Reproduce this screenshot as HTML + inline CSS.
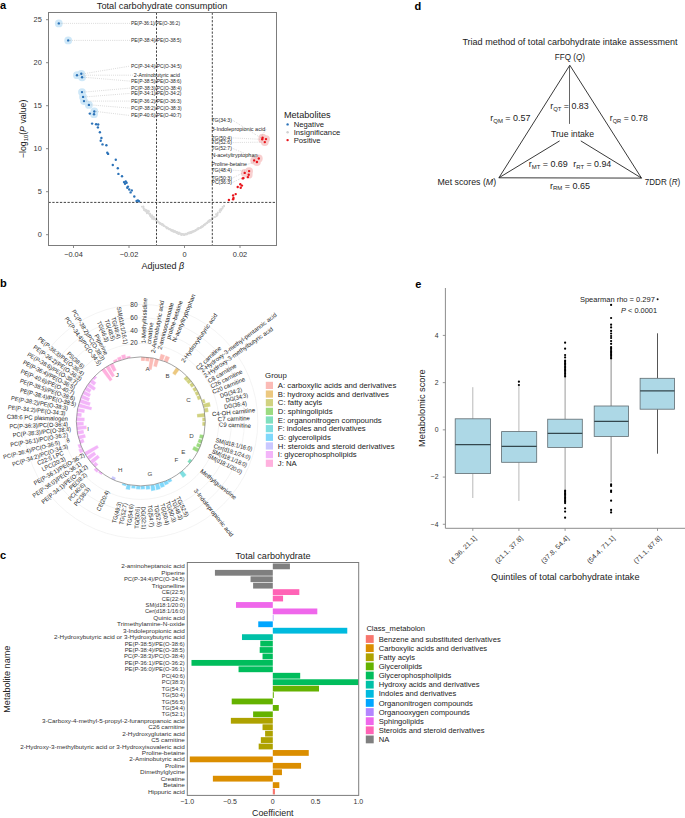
<!DOCTYPE html>
<html><head><meta charset="utf-8"><style>
html,body{margin:0;padding:0;background:#fff;}
svg{display:block;font-family:"Liberation Sans", sans-serif;}
</style></head><body>
<svg width="685" height="818" viewBox="0 0 685 818" fill="#222">
<text x="0.00" y="9.08" font-size="11" fill="#000" font-weight="bold">a</text>
<text x="96.80" y="9.12" font-size="8.2" textLength="130.60" lengthAdjust="spacingAndGlyphs">Total carbohydrate consumption</text>
<circle cx="161.61" cy="224.03" r="0.95" fill="#d9d9d9"/>
<circle cx="192.53" cy="231.65" r="0.95" fill="#d9d9d9"/>
<circle cx="194.37" cy="230.92" r="0.95" fill="#d9d9d9"/>
<circle cx="212.27" cy="218.47" r="0.95" fill="#d9d9d9"/>
<circle cx="163.42" cy="225.71" r="0.95" fill="#d9d9d9"/>
<circle cx="181.24" cy="235.08" r="0.95" fill="#d9d9d9"/>
<circle cx="212.18" cy="218.03" r="0.95" fill="#d9d9d9"/>
<circle cx="154.23" cy="218.75" r="0.95" fill="#d9d9d9"/>
<circle cx="195.15" cy="230.76" r="0.95" fill="#d9d9d9"/>
<circle cx="204.14" cy="224.65" r="0.95" fill="#d9d9d9"/>
<circle cx="198.23" cy="229.32" r="0.95" fill="#d9d9d9"/>
<circle cx="191.45" cy="232.45" r="0.95" fill="#d9d9d9"/>
<circle cx="166.96" cy="228.49" r="0.95" fill="#d9d9d9"/>
<circle cx="181.45" cy="234.12" r="0.95" fill="#d9d9d9"/>
<circle cx="202.24" cy="226.67" r="0.95" fill="#d9d9d9"/>
<circle cx="209.18" cy="220.71" r="0.95" fill="#d9d9d9"/>
<circle cx="179.07" cy="233.95" r="0.95" fill="#d9d9d9"/>
<circle cx="149.73" cy="213.72" r="0.95" fill="#d9d9d9"/>
<circle cx="152.99" cy="217.96" r="0.95" fill="#d9d9d9"/>
<circle cx="178.36" cy="233.94" r="0.95" fill="#d9d9d9"/>
<circle cx="194.45" cy="230.69" r="0.95" fill="#d9d9d9"/>
<circle cx="174.11" cy="231.83" r="0.95" fill="#d9d9d9"/>
<circle cx="171.15" cy="229.67" r="0.95" fill="#d9d9d9"/>
<circle cx="217.91" cy="212.46" r="0.95" fill="#d9d9d9"/>
<circle cx="220.00" cy="212.24" r="0.95" fill="#d9d9d9"/>
<circle cx="155.28" cy="219.44" r="0.95" fill="#d9d9d9"/>
<circle cx="214.22" cy="217.03" r="0.95" fill="#d9d9d9"/>
<circle cx="201.82" cy="226.30" r="0.95" fill="#d9d9d9"/>
<circle cx="159.34" cy="222.93" r="0.95" fill="#d9d9d9"/>
<circle cx="165.58" cy="226.58" r="0.95" fill="#d9d9d9"/>
<circle cx="146.86" cy="213.25" r="0.95" fill="#d9d9d9"/>
<circle cx="148.98" cy="211.55" r="0.95" fill="#d9d9d9"/>
<circle cx="209.15" cy="220.94" r="0.95" fill="#d9d9d9"/>
<circle cx="166.33" cy="227.54" r="0.95" fill="#d9d9d9"/>
<circle cx="206.46" cy="223.32" r="0.95" fill="#d9d9d9"/>
<circle cx="193.43" cy="231.25" r="0.95" fill="#d9d9d9"/>
<circle cx="145.30" cy="209.80" r="0.95" fill="#d9d9d9"/>
<circle cx="215.94" cy="214.24" r="0.95" fill="#d9d9d9"/>
<circle cx="184.21" cy="234.94" r="0.95" fill="#d9d9d9"/>
<circle cx="148.00" cy="212.74" r="0.95" fill="#d9d9d9"/>
<circle cx="192.18" cy="232.13" r="0.95" fill="#d9d9d9"/>
<circle cx="175.97" cy="232.24" r="0.95" fill="#d9d9d9"/>
<circle cx="193.08" cy="231.54" r="0.95" fill="#d9d9d9"/>
<circle cx="222.51" cy="208.39" r="0.95" fill="#d9d9d9"/>
<circle cx="173.42" cy="230.72" r="0.95" fill="#d9d9d9"/>
<circle cx="195.91" cy="230.18" r="0.95" fill="#d9d9d9"/>
<circle cx="191.83" cy="231.60" r="0.95" fill="#d9d9d9"/>
<circle cx="220.98" cy="209.39" r="0.95" fill="#d9d9d9"/>
<circle cx="177.94" cy="232.87" r="0.95" fill="#d9d9d9"/>
<circle cx="166.94" cy="227.54" r="0.95" fill="#d9d9d9"/>
<circle cx="224.12" cy="206.20" r="0.95" fill="#d9d9d9"/>
<circle cx="176.59" cy="232.41" r="0.95" fill="#d9d9d9"/>
<circle cx="190.51" cy="233.10" r="0.95" fill="#d9d9d9"/>
<circle cx="194.92" cy="230.65" r="0.95" fill="#d9d9d9"/>
<circle cx="146.58" cy="210.59" r="0.95" fill="#d9d9d9"/>
<circle cx="198.90" cy="228.11" r="0.95" fill="#d9d9d9"/>
<circle cx="171.29" cy="229.99" r="0.95" fill="#d9d9d9"/>
<circle cx="143.37" cy="206.45" r="0.95" fill="#d9d9d9"/>
<circle cx="146.62" cy="210.30" r="0.95" fill="#d9d9d9"/>
<circle cx="162.72" cy="224.32" r="0.95" fill="#d9d9d9"/>
<circle cx="180.06" cy="233.34" r="0.95" fill="#d9d9d9"/>
<circle cx="172.25" cy="230.43" r="0.95" fill="#d9d9d9"/>
<circle cx="167.92" cy="228.04" r="0.95" fill="#d9d9d9"/>
<circle cx="166.88" cy="228.11" r="0.95" fill="#d9d9d9"/>
<circle cx="173.37" cy="231.12" r="0.95" fill="#d9d9d9"/>
<circle cx="189.60" cy="232.90" r="0.95" fill="#d9d9d9"/>
<circle cx="203.62" cy="225.23" r="0.95" fill="#d9d9d9"/>
<circle cx="209.42" cy="221.12" r="0.95" fill="#d9d9d9"/>
<circle cx="161.67" cy="224.54" r="0.95" fill="#d9d9d9"/>
<circle cx="200.49" cy="227.76" r="0.95" fill="#d9d9d9"/>
<circle cx="150.11" cy="214.45" r="0.95" fill="#d9d9d9"/>
<circle cx="211.93" cy="219.02" r="0.95" fill="#d9d9d9"/>
<circle cx="178.55" cy="233.25" r="0.95" fill="#d9d9d9"/>
<circle cx="169.95" cy="229.29" r="0.95" fill="#d9d9d9"/>
<circle cx="196.44" cy="230.07" r="0.95" fill="#d9d9d9"/>
<circle cx="160.51" cy="223.32" r="0.95" fill="#d9d9d9"/>
<circle cx="151.72" cy="215.75" r="0.95" fill="#d9d9d9"/>
<circle cx="209.67" cy="220.64" r="0.95" fill="#d9d9d9"/>
<circle cx="212.35" cy="218.48" r="0.95" fill="#d9d9d9"/>
<circle cx="209.71" cy="220.91" r="0.95" fill="#d9d9d9"/>
<circle cx="195.74" cy="230.27" r="0.95" fill="#d9d9d9"/>
<circle cx="152.46" cy="216.22" r="0.95" fill="#d9d9d9"/>
<circle cx="166.17" cy="227.41" r="0.95" fill="#d9d9d9"/>
<circle cx="170.77" cy="229.61" r="0.95" fill="#d9d9d9"/>
<circle cx="176.73" cy="232.17" r="0.95" fill="#d9d9d9"/>
<circle cx="141.89" cy="206.66" r="0.95" fill="#d9d9d9"/>
<circle cx="221.21" cy="210.56" r="0.95" fill="#d9d9d9"/>
<circle cx="221.79" cy="208.89" r="0.95" fill="#d9d9d9"/>
<circle cx="160.27" cy="223.37" r="0.95" fill="#d9d9d9"/>
<circle cx="197.52" cy="228.52" r="0.95" fill="#d9d9d9"/>
<circle cx="185.36" cy="234.37" r="0.95" fill="#d9d9d9"/>
<circle cx="160.72" cy="224.03" r="0.95" fill="#d9d9d9"/>
<circle cx="147.25" cy="211.36" r="0.95" fill="#d9d9d9"/>
<circle cx="209.96" cy="220.29" r="0.95" fill="#d9d9d9"/>
<circle cx="145.31" cy="211.10" r="0.95" fill="#d9d9d9"/>
<circle cx="219.57" cy="210.57" r="0.95" fill="#d9d9d9"/>
<circle cx="217.52" cy="214.94" r="0.95" fill="#d9d9d9"/>
<circle cx="156.02" cy="220.13" r="0.95" fill="#d9d9d9"/>
<circle cx="166.84" cy="227.52" r="0.95" fill="#d9d9d9"/>
<circle cx="176.46" cy="232.02" r="0.95" fill="#d9d9d9"/>
<circle cx="220.85" cy="209.62" r="0.95" fill="#d9d9d9"/>
<circle cx="207.61" cy="222.58" r="0.95" fill="#d9d9d9"/>
<circle cx="171.23" cy="230.25" r="0.95" fill="#d9d9d9"/>
<circle cx="210.52" cy="220.38" r="0.95" fill="#d9d9d9"/>
<circle cx="155.98" cy="220.25" r="0.95" fill="#d9d9d9"/>
<circle cx="209.61" cy="219.97" r="0.95" fill="#d9d9d9"/>
<circle cx="211.09" cy="219.97" r="0.95" fill="#d9d9d9"/>
<circle cx="164.43" cy="226.28" r="0.95" fill="#d9d9d9"/>
<circle cx="164.20" cy="225.74" r="0.95" fill="#d9d9d9"/>
<circle cx="181.46" cy="233.93" r="0.95" fill="#d9d9d9"/>
<circle cx="207.11" cy="222.86" r="0.95" fill="#d9d9d9"/>
<circle cx="152.22" cy="216.79" r="0.95" fill="#d9d9d9"/>
<circle cx="152.03" cy="218.83" r="0.95" fill="#d9d9d9"/>
<circle cx="183.93" cy="234.98" r="0.95" fill="#d9d9d9"/>
<circle cx="168.19" cy="228.39" r="0.95" fill="#d9d9d9"/>
<circle cx="196.16" cy="230.24" r="0.95" fill="#d9d9d9"/>
<circle cx="191.07" cy="232.24" r="0.95" fill="#d9d9d9"/>
<circle cx="169.28" cy="229.28" r="0.95" fill="#d9d9d9"/>
<circle cx="151.96" cy="215.20" r="0.95" fill="#d9d9d9"/>
<circle cx="173.63" cy="231.04" r="0.95" fill="#d9d9d9"/>
<circle cx="148.25" cy="213.37" r="0.95" fill="#d9d9d9"/>
<circle cx="192.57" cy="232.03" r="0.95" fill="#d9d9d9"/>
<circle cx="207.63" cy="221.88" r="0.95" fill="#d9d9d9"/>
<circle cx="194.14" cy="231.41" r="0.95" fill="#d9d9d9"/>
<circle cx="177.97" cy="232.64" r="0.95" fill="#d9d9d9"/>
<circle cx="200.89" cy="227.45" r="0.95" fill="#d9d9d9"/>
<circle cx="177.03" cy="232.46" r="0.95" fill="#d9d9d9"/>
<circle cx="162.21" cy="224.41" r="0.95" fill="#d9d9d9"/>
<circle cx="186.78" cy="233.96" r="0.95" fill="#d9d9d9"/>
<circle cx="177.40" cy="232.60" r="0.95" fill="#d9d9d9"/>
<circle cx="177.48" cy="233.35" r="0.95" fill="#d9d9d9"/>
<circle cx="173.12" cy="230.44" r="0.95" fill="#d9d9d9"/>
<circle cx="217.37" cy="213.54" r="0.95" fill="#d9d9d9"/>
<circle cx="151.91" cy="217.50" r="0.95" fill="#d9d9d9"/>
<circle cx="210.22" cy="219.84" r="0.95" fill="#d9d9d9"/>
<circle cx="208.46" cy="221.05" r="0.95" fill="#d9d9d9"/>
<circle cx="197.91" cy="228.92" r="0.95" fill="#d9d9d9"/>
<circle cx="150.21" cy="213.76" r="0.95" fill="#d9d9d9"/>
<circle cx="191.17" cy="232.54" r="0.95" fill="#d9d9d9"/>
<circle cx="206.93" cy="222.89" r="0.95" fill="#d9d9d9"/>
<circle cx="145.24" cy="210.24" r="0.95" fill="#d9d9d9"/>
<circle cx="143.48" cy="208.22" r="0.95" fill="#d9d9d9"/>
<circle cx="212.81" cy="218.40" r="0.95" fill="#d9d9d9"/>
<circle cx="190.43" cy="231.91" r="0.95" fill="#d9d9d9"/>
<circle cx="208.99" cy="221.82" r="0.95" fill="#d9d9d9"/>
<circle cx="184.71" cy="234.78" r="0.95" fill="#d9d9d9"/>
<circle cx="201.93" cy="226.93" r="0.95" fill="#d9d9d9"/>
<circle cx="168.90" cy="229.26" r="0.95" fill="#d9d9d9"/>
<circle cx="189.16" cy="233.28" r="0.95" fill="#d9d9d9"/>
<circle cx="156.69" cy="220.40" r="0.95" fill="#d9d9d9"/>
<circle cx="162.62" cy="224.62" r="0.95" fill="#d9d9d9"/>
<circle cx="174.77" cy="231.32" r="0.95" fill="#d9d9d9"/>
<circle cx="172.55" cy="230.48" r="0.95" fill="#d9d9d9"/>
<circle cx="176.84" cy="232.72" r="0.95" fill="#d9d9d9"/>
<circle cx="148.54" cy="210.86" r="0.95" fill="#d9d9d9"/>
<circle cx="176.38" cy="232.35" r="0.95" fill="#d9d9d9"/>
<circle cx="204.66" cy="224.87" r="0.95" fill="#d9d9d9"/>
<circle cx="205.39" cy="224.50" r="0.95" fill="#d9d9d9"/>
<circle cx="198.44" cy="228.26" r="0.95" fill="#d9d9d9"/>
<circle cx="195.83" cy="230.07" r="0.95" fill="#d9d9d9"/>
<circle cx="149.60" cy="214.30" r="0.95" fill="#d9d9d9"/>
<circle cx="185.21" cy="233.72" r="0.95" fill="#d9d9d9"/>
<circle cx="178.94" cy="233.20" r="0.95" fill="#d9d9d9"/>
<circle cx="164.09" cy="225.82" r="0.95" fill="#d9d9d9"/>
<circle cx="158.33" cy="221.67" r="0.95" fill="#d9d9d9"/>
<circle cx="161.13" cy="223.86" r="0.95" fill="#d9d9d9"/>
<circle cx="199.90" cy="228.06" r="0.95" fill="#d9d9d9"/>
<circle cx="201.10" cy="226.94" r="0.95" fill="#d9d9d9"/>
<circle cx="176.42" cy="232.65" r="0.95" fill="#d9d9d9"/>
<circle cx="164.08" cy="225.66" r="0.95" fill="#d9d9d9"/>
<circle cx="159.89" cy="223.51" r="0.95" fill="#d9d9d9"/>
<circle cx="173.84" cy="231.38" r="0.95" fill="#d9d9d9"/>
<circle cx="156.05" cy="219.91" r="0.95" fill="#d9d9d9"/>
<circle cx="206.92" cy="223.13" r="0.95" fill="#d9d9d9"/>
<circle cx="153.64" cy="219.07" r="0.95" fill="#d9d9d9"/>
<circle cx="192.12" cy="231.91" r="0.95" fill="#d9d9d9"/>
<circle cx="181.05" cy="234.21" r="0.95" fill="#d9d9d9"/>
<circle cx="188.58" cy="232.82" r="0.95" fill="#d9d9d9"/>
<circle cx="182.17" cy="234.05" r="0.95" fill="#d9d9d9"/>
<circle cx="175.32" cy="231.26" r="0.95" fill="#d9d9d9"/>
<circle cx="203.49" cy="225.80" r="0.95" fill="#d9d9d9"/>
<circle cx="160.90" cy="223.76" r="0.95" fill="#d9d9d9"/>
<circle cx="161.34" cy="224.06" r="0.95" fill="#d9d9d9"/>
<circle cx="222.51" cy="206.84" r="0.95" fill="#d9d9d9"/>
<circle cx="161.96" cy="224.70" r="0.95" fill="#d9d9d9"/>
<circle cx="157.32" cy="221.39" r="0.95" fill="#d9d9d9"/>
<circle cx="201.05" cy="227.53" r="0.95" fill="#d9d9d9"/>
<circle cx="163.05" cy="224.77" r="0.95" fill="#d9d9d9"/>
<circle cx="177.27" cy="232.66" r="0.95" fill="#d9d9d9"/>
<circle cx="149.33" cy="213.68" r="0.95" fill="#d9d9d9"/>
<circle cx="211.97" cy="218.63" r="0.95" fill="#d9d9d9"/>
<circle cx="190.54" cy="232.93" r="0.95" fill="#d9d9d9"/>
<circle cx="198.58" cy="228.89" r="0.95" fill="#d9d9d9"/>
<circle cx="178.36" cy="233.07" r="0.95" fill="#d9d9d9"/>
<circle cx="182.56" cy="234.39" r="0.95" fill="#d9d9d9"/>
<circle cx="187.50" cy="234.21" r="0.95" fill="#d9d9d9"/>
<circle cx="151.57" cy="215.98" r="0.95" fill="#d9d9d9"/>
<circle cx="151.01" cy="216.98" r="0.95" fill="#d9d9d9"/>
<circle cx="216.47" cy="216.27" r="0.95" fill="#d9d9d9"/>
<circle cx="173.12" cy="231.48" r="0.95" fill="#d9d9d9"/>
<circle cx="206.77" cy="223.02" r="0.95" fill="#d9d9d9"/>
<circle cx="198.61" cy="228.27" r="0.95" fill="#d9d9d9"/>
<circle cx="196.77" cy="229.70" r="0.95" fill="#d9d9d9"/>
<circle cx="205.23" cy="223.91" r="0.95" fill="#d9d9d9"/>
<circle cx="222.73" cy="207.49" r="0.95" fill="#d9d9d9"/>
<circle cx="183.23" cy="234.39" r="0.95" fill="#d9d9d9"/>
<circle cx="171.26" cy="230.02" r="0.95" fill="#d9d9d9"/>
<circle cx="189.36" cy="232.56" r="0.95" fill="#d9d9d9"/>
<circle cx="156.88" cy="220.48" r="0.95" fill="#d9d9d9"/>
<circle cx="156.63" cy="220.19" r="0.95" fill="#d9d9d9"/>
<circle cx="216.70" cy="215.77" r="0.95" fill="#d9d9d9"/>
<circle cx="153.45" cy="219.34" r="0.95" fill="#d9d9d9"/>
<circle cx="169.51" cy="229.15" r="0.95" fill="#d9d9d9"/>
<circle cx="188.39" cy="232.98" r="0.95" fill="#d9d9d9"/>
<circle cx="196.21" cy="229.62" r="0.95" fill="#d9d9d9"/>
<circle cx="156.40" cy="220.48" r="0.95" fill="#d9d9d9"/>
<circle cx="147.30" cy="211.71" r="0.95" fill="#d9d9d9"/>
<circle cx="187.39" cy="233.22" r="0.95" fill="#d9d9d9"/>
<circle cx="204.00" cy="224.88" r="0.95" fill="#d9d9d9"/>
<circle cx="173.90" cy="231.55" r="0.95" fill="#d9d9d9"/>
<circle cx="184.15" cy="234.64" r="0.95" fill="#d9d9d9"/>
<circle cx="171.42" cy="230.80" r="0.95" fill="#d9d9d9"/>
<circle cx="169.63" cy="228.93" r="0.95" fill="#d9d9d9"/>
<circle cx="206.71" cy="223.30" r="0.95" fill="#d9d9d9"/>
<circle cx="171.32" cy="230.25" r="0.95" fill="#d9d9d9"/>
<circle cx="164.36" cy="226.07" r="0.95" fill="#d9d9d9"/>
<circle cx="149.92" cy="215.82" r="0.95" fill="#d9d9d9"/>
<circle cx="202.96" cy="226.18" r="0.95" fill="#d9d9d9"/>
<circle cx="157.12" cy="221.11" r="0.95" fill="#d9d9d9"/>
<circle cx="204.31" cy="225.17" r="0.95" fill="#d9d9d9"/>
<circle cx="210.43" cy="220.04" r="0.95" fill="#d9d9d9"/>
<circle cx="153.88" cy="217.05" r="0.95" fill="#d9d9d9"/>
<circle cx="175.17" cy="232.02" r="0.95" fill="#d9d9d9"/>
<circle cx="189.53" cy="233.42" r="0.95" fill="#d9d9d9"/>
<circle cx="158.58" cy="222.12" r="0.95" fill="#d9d9d9"/>
<circle cx="144.04" cy="210.17" r="0.95" fill="#d9d9d9"/>
<circle cx="209.37" cy="221.60" r="0.95" fill="#d9d9d9"/>
<circle cx="173.88" cy="230.79" r="0.95" fill="#d9d9d9"/>
<circle cx="188.20" cy="233.09" r="0.95" fill="#d9d9d9"/>
<circle cx="224.05" cy="205.78" r="0.95" fill="#d9d9d9"/>
<circle cx="166.80" cy="227.97" r="0.95" fill="#d9d9d9"/>
<circle cx="192.32" cy="231.53" r="0.95" fill="#d9d9d9"/>
<circle cx="202.92" cy="226.41" r="0.95" fill="#d9d9d9"/>
<circle cx="197.43" cy="229.25" r="0.95" fill="#d9d9d9"/>
<circle cx="183.06" cy="234.01" r="0.95" fill="#d9d9d9"/>
<circle cx="157.85" cy="221.50" r="0.95" fill="#d9d9d9"/>
<circle cx="186.25" cy="234.58" r="0.95" fill="#d9d9d9"/>
<circle cx="196.08" cy="230.08" r="0.95" fill="#d9d9d9"/>
<circle cx="179.04" cy="232.47" r="0.95" fill="#d9d9d9"/>
<circle cx="208.46" cy="221.32" r="0.95" fill="#d9d9d9"/>
<circle cx="194.17" cy="231.28" r="0.95" fill="#d9d9d9"/>
<circle cx="161.22" cy="224.19" r="0.95" fill="#d9d9d9"/>
<circle cx="148.08" cy="210.81" r="0.95" fill="#d9d9d9"/>
<circle cx="168.80" cy="228.66" r="0.95" fill="#d9d9d9"/>
<circle cx="215.06" cy="217.05" r="0.95" fill="#d9d9d9"/>
<circle cx="192.30" cy="232.37" r="0.95" fill="#d9d9d9"/>
<circle cx="219.83" cy="211.02" r="0.95" fill="#d9d9d9"/>
<circle cx="209.66" cy="220.37" r="0.95" fill="#d9d9d9"/>
<circle cx="220.23" cy="209.25" r="0.95" fill="#d9d9d9"/>
<circle cx="182.48" cy="234.48" r="0.95" fill="#d9d9d9"/>
<circle cx="150.72" cy="215.74" r="0.95" fill="#d9d9d9"/>
<circle cx="158.43" cy="222.04" r="0.95" fill="#d9d9d9"/>
<circle cx="155.09" cy="218.76" r="0.95" fill="#d9d9d9"/>
<circle cx="186.91" cy="233.97" r="0.95" fill="#d9d9d9"/>
<circle cx="177.17" cy="232.47" r="0.95" fill="#d9d9d9"/>
<circle cx="180.74" cy="233.55" r="0.95" fill="#d9d9d9"/>
<circle cx="205.47" cy="223.81" r="0.95" fill="#d9d9d9"/>
<circle cx="217.50" cy="213.81" r="0.95" fill="#d9d9d9"/>
<circle cx="172.51" cy="230.42" r="0.95" fill="#d9d9d9"/>
<circle cx="191.90" cy="232.34" r="0.95" fill="#d9d9d9"/>
<circle cx="160.42" cy="223.74" r="0.95" fill="#d9d9d9"/>
<circle cx="207.68" cy="222.30" r="0.95" fill="#d9d9d9"/>
<circle cx="153.62" cy="217.46" r="0.95" fill="#d9d9d9"/>
<circle cx="159.18" cy="222.64" r="0.95" fill="#d9d9d9"/>
<circle cx="155.93" cy="219.83" r="0.95" fill="#d9d9d9"/>
<circle cx="143.82" cy="208.67" r="0.95" fill="#d9d9d9"/>
<circle cx="150.80" cy="215.98" r="0.95" fill="#d9d9d9"/>
<circle cx="146.55" cy="212.17" r="0.95" fill="#d9d9d9"/>
<circle cx="143.40" cy="207.02" r="0.95" fill="#d9d9d9"/>
<circle cx="200.94" cy="227.24" r="0.95" fill="#d9d9d9"/>
<circle cx="145.82" cy="209.76" r="0.95" fill="#d9d9d9"/>
<circle cx="143.75" cy="208.80" r="0.95" fill="#d9d9d9"/>
<circle cx="149.47" cy="213.66" r="0.95" fill="#d9d9d9"/>
<circle cx="194.10" cy="231.03" r="0.95" fill="#d9d9d9"/>
<circle cx="170.77" cy="229.96" r="0.95" fill="#d9d9d9"/>
<circle cx="58.80" cy="23.40" r="3.90" fill="#cfe8f8"/>
<circle cx="68.20" cy="40.40" r="3.90" fill="#cfe8f8"/>
<circle cx="77.00" cy="75.20" r="3.90" fill="#cfe8f8"/>
<circle cx="81.30" cy="73.80" r="3.90" fill="#cfe8f8"/>
<circle cx="82.10" cy="77.30" r="3.90" fill="#cfe8f8"/>
<circle cx="82.00" cy="92.10" r="3.90" fill="#cfe8f8"/>
<circle cx="83.10" cy="96.90" r="3.90" fill="#cfe8f8"/>
<circle cx="84.00" cy="101.10" r="3.90" fill="#cfe8f8"/>
<circle cx="88.90" cy="104.90" r="3.90" fill="#cfe8f8"/>
<circle cx="94.30" cy="111.50" r="3.90" fill="#cfe8f8"/>
<circle cx="94.00" cy="114.20" r="3.90" fill="#cfe8f8"/>
<circle cx="262.60" cy="137.70" r="3.90" fill="#f8cfcf"/>
<circle cx="262.20" cy="139.30" r="3.90" fill="#f8cfcf"/>
<circle cx="266.00" cy="139.10" r="3.90" fill="#f8cfcf"/>
<circle cx="264.80" cy="142.10" r="3.90" fill="#f8cfcf"/>
<circle cx="258.80" cy="158.50" r="3.90" fill="#f8cfcf"/>
<circle cx="254.20" cy="160.40" r="3.90" fill="#f8cfcf"/>
<circle cx="256.90" cy="162.00" r="3.90" fill="#f8cfcf"/>
<circle cx="249.10" cy="171.10" r="3.90" fill="#f8cfcf"/>
<circle cx="244.70" cy="172.90" r="3.90" fill="#f8cfcf"/>
<circle cx="248.70" cy="174.70" r="3.90" fill="#f8cfcf"/>
<line x1="156.50" y1="12.50" x2="156.50" y2="245.50" stroke="#222" stroke-width="0.85" stroke-dasharray="2.3 1.5"/>
<line x1="212.30" y1="12.50" x2="212.30" y2="245.50" stroke="#222" stroke-width="0.85" stroke-dasharray="2.3 1.5"/>
<line x1="48.50" y1="202.40" x2="276.50" y2="202.40" stroke="#222" stroke-width="0.85" stroke-dasharray="2.3 1.5"/>
<line x1="60.80" y1="23.40" x2="130.00" y2="23.40" stroke="#9a9a9a" stroke-width="0.55" stroke-dasharray="0.6 1.3"/>
<line x1="70.20" y1="40.40" x2="130.00" y2="40.40" stroke="#9a9a9a" stroke-width="0.55" stroke-dasharray="0.6 1.3"/>
<line x1="83.30" y1="73.80" x2="130.00" y2="66.10" stroke="#9a9a9a" stroke-width="0.55" stroke-dasharray="0.6 1.3"/>
<line x1="79.00" y1="75.20" x2="132.80" y2="75.20" stroke="#9a9a9a" stroke-width="0.55" stroke-dasharray="0.6 1.3"/>
<line x1="84.10" y1="77.30" x2="130.00" y2="81.10" stroke="#9a9a9a" stroke-width="0.55" stroke-dasharray="0.6 1.3"/>
<line x1="84.00" y1="92.10" x2="130.00" y2="88.10" stroke="#9a9a9a" stroke-width="0.55" stroke-dasharray="0.6 1.3"/>
<line x1="85.10" y1="96.90" x2="130.00" y2="93.40" stroke="#9a9a9a" stroke-width="0.55" stroke-dasharray="0.6 1.3"/>
<line x1="86.00" y1="101.10" x2="130.00" y2="101.10" stroke="#9a9a9a" stroke-width="0.55" stroke-dasharray="0.6 1.3"/>
<line x1="90.90" y1="104.90" x2="130.00" y2="108.10" stroke="#9a9a9a" stroke-width="0.55" stroke-dasharray="0.6 1.3"/>
<line x1="96.30" y1="111.50" x2="130.00" y2="115.50" stroke="#9a9a9a" stroke-width="0.55" stroke-dasharray="0.6 1.3"/>
<line x1="232.90" y1="120.40" x2="260.60" y2="137.70" stroke="#9a9a9a" stroke-width="0.55" stroke-dasharray="0.6 1.3"/>
<line x1="266.20" y1="129.20" x2="260.60" y2="137.70" stroke="#9a9a9a" stroke-width="0.55" stroke-dasharray="0.6 1.3"/>
<line x1="232.90" y1="137.90" x2="260.20" y2="139.30" stroke="#9a9a9a" stroke-width="0.55" stroke-dasharray="0.6 1.3"/>
<line x1="232.90" y1="142.60" x2="262.80" y2="142.10" stroke="#9a9a9a" stroke-width="0.55" stroke-dasharray="0.6 1.3"/>
<line x1="232.90" y1="148.50" x2="256.80" y2="158.50" stroke="#9a9a9a" stroke-width="0.55" stroke-dasharray="0.6 1.3"/>
<line x1="258.50" y1="155.80" x2="252.20" y2="160.40" stroke="#9a9a9a" stroke-width="0.55" stroke-dasharray="0.6 1.3"/>
<line x1="247.90" y1="164.20" x2="254.90" y2="162.00" stroke="#9a9a9a" stroke-width="0.55" stroke-dasharray="0.6 1.3"/>
<line x1="232.90" y1="170.20" x2="247.10" y2="171.10" stroke="#9a9a9a" stroke-width="0.55" stroke-dasharray="0.6 1.3"/>
<line x1="232.90" y1="177.90" x2="242.70" y2="172.90" stroke="#9a9a9a" stroke-width="0.55" stroke-dasharray="0.6 1.3"/>
<line x1="232.90" y1="182.30" x2="241.50" y2="178.10" stroke="#9a9a9a" stroke-width="0.55" stroke-dasharray="0.6 1.3"/>
<circle cx="58.80" cy="23.40" r="1.20" fill="#2b72b8"/>
<circle cx="68.20" cy="40.40" r="1.20" fill="#2b72b8"/>
<circle cx="77.00" cy="75.20" r="1.20" fill="#2b72b8"/>
<circle cx="81.30" cy="73.80" r="1.20" fill="#2b72b8"/>
<circle cx="82.10" cy="77.30" r="1.20" fill="#2b72b8"/>
<circle cx="82.00" cy="92.10" r="1.20" fill="#2b72b8"/>
<circle cx="83.10" cy="96.90" r="1.20" fill="#2b72b8"/>
<circle cx="84.00" cy="101.10" r="1.20" fill="#2b72b8"/>
<circle cx="88.90" cy="104.90" r="1.20" fill="#2b72b8"/>
<circle cx="94.30" cy="111.50" r="1.20" fill="#2b72b8"/>
<circle cx="94.00" cy="114.20" r="1.20" fill="#2b72b8"/>
<circle cx="89.80" cy="113.60" r="1.20" fill="#2b72b8"/>
<circle cx="92.10" cy="123.60" r="1.20" fill="#2b72b8"/>
<circle cx="96.10" cy="124.20" r="1.20" fill="#2b72b8"/>
<circle cx="98.20" cy="124.50" r="1.20" fill="#2b72b8"/>
<circle cx="97.90" cy="127.40" r="1.20" fill="#2b72b8"/>
<circle cx="99.90" cy="132.20" r="1.20" fill="#2b72b8"/>
<circle cx="101.40" cy="138.00" r="1.20" fill="#2b72b8"/>
<circle cx="100.70" cy="140.70" r="1.20" fill="#2b72b8"/>
<circle cx="102.50" cy="144.40" r="1.20" fill="#2b72b8"/>
<circle cx="106.40" cy="145.20" r="1.20" fill="#2b72b8"/>
<circle cx="107.30" cy="152.80" r="1.20" fill="#2b72b8"/>
<circle cx="108.10" cy="153.90" r="1.20" fill="#2b72b8"/>
<circle cx="115.80" cy="159.70" r="1.20" fill="#2b72b8"/>
<circle cx="112.80" cy="165.00" r="1.20" fill="#2b72b8"/>
<circle cx="117.80" cy="168.30" r="1.20" fill="#2b72b8"/>
<circle cx="118.40" cy="173.90" r="1.20" fill="#2b72b8"/>
<circle cx="122.00" cy="176.30" r="1.20" fill="#2b72b8"/>
<circle cx="124.00" cy="182.10" r="1.20" fill="#2b72b8"/>
<circle cx="125.70" cy="181.40" r="1.20" fill="#2b72b8"/>
<circle cx="126.60" cy="182.70" r="1.20" fill="#2b72b8"/>
<circle cx="125.00" cy="183.70" r="1.20" fill="#2b72b8"/>
<circle cx="127.90" cy="186.60" r="1.20" fill="#2b72b8"/>
<circle cx="127.30" cy="187.70" r="1.20" fill="#2b72b8"/>
<circle cx="129.20" cy="189.50" r="1.20" fill="#2b72b8"/>
<circle cx="131.80" cy="190.40" r="1.20" fill="#2b72b8"/>
<circle cx="130.60" cy="192.40" r="1.20" fill="#2b72b8"/>
<circle cx="134.30" cy="196.50" r="1.20" fill="#2b72b8"/>
<circle cx="136.60" cy="201.00" r="1.20" fill="#2b72b8"/>
<circle cx="137.90" cy="200.40" r="1.20" fill="#2b72b8"/>
<circle cx="139.00" cy="201.30" r="1.20" fill="#2b72b8"/>
<circle cx="262.60" cy="137.70" r="1.20" fill="#e8141b"/>
<circle cx="262.20" cy="139.30" r="1.20" fill="#e8141b"/>
<circle cx="266.00" cy="139.10" r="1.20" fill="#e8141b"/>
<circle cx="264.80" cy="142.10" r="1.20" fill="#e8141b"/>
<circle cx="258.80" cy="158.50" r="1.20" fill="#e8141b"/>
<circle cx="254.20" cy="160.40" r="1.20" fill="#e8141b"/>
<circle cx="256.90" cy="162.00" r="1.20" fill="#e8141b"/>
<circle cx="249.10" cy="171.10" r="1.20" fill="#e8141b"/>
<circle cx="244.70" cy="172.90" r="1.20" fill="#e8141b"/>
<circle cx="248.70" cy="174.70" r="1.20" fill="#e8141b"/>
<circle cx="247.90" cy="177.10" r="1.20" fill="#e8141b"/>
<circle cx="243.50" cy="178.10" r="1.20" fill="#e8141b"/>
<circle cx="242.70" cy="178.40" r="1.20" fill="#e8141b"/>
<circle cx="240.30" cy="184.20" r="1.20" fill="#e8141b"/>
<circle cx="241.90" cy="185.60" r="1.20" fill="#e8141b"/>
<circle cx="240.70" cy="187.80" r="1.20" fill="#e8141b"/>
<circle cx="237.70" cy="187.00" r="1.20" fill="#e8141b"/>
<circle cx="235.70" cy="194.10" r="1.20" fill="#e8141b"/>
<circle cx="233.10" cy="195.40" r="1.20" fill="#e8141b"/>
<circle cx="233.50" cy="198.00" r="1.20" fill="#e8141b"/>
<circle cx="233.10" cy="199.20" r="1.20" fill="#e8141b"/>
<circle cx="228.90" cy="200.00" r="1.20" fill="#e8141b"/>
<text x="131.00" y="25.09" font-size="4.9" fill="#1e1e1e" textLength="49.00" lengthAdjust="spacingAndGlyphs">PE(P-36:1)/PE(O-36:2)</text>
<text x="131.00" y="42.09" font-size="4.9" fill="#1e1e1e" textLength="50.50" lengthAdjust="spacingAndGlyphs">PE(P-38:4)/PE(O-38:5)</text>
<text x="131.00" y="67.79" font-size="4.9" fill="#1e1e1e" textLength="50.50" lengthAdjust="spacingAndGlyphs">PC(P-34:4)/PC(O-34:5)</text>
<text x="133.80" y="76.89" font-size="4.9" fill="#1e1e1e" textLength="46.00" lengthAdjust="spacingAndGlyphs">2-Aminobutyric acid</text>
<text x="131.00" y="82.79" font-size="4.9" fill="#1e1e1e" textLength="50.50" lengthAdjust="spacingAndGlyphs">PE(P-38:5)/PE(O-38:6)</text>
<text x="131.00" y="89.79" font-size="4.9" fill="#1e1e1e" textLength="50.50" lengthAdjust="spacingAndGlyphs">PC(P-38:3)/PC(O-38:4)</text>
<text x="131.00" y="95.09" font-size="4.9" fill="#1e1e1e" textLength="50.50" lengthAdjust="spacingAndGlyphs">PE(P-34:1)/PE(O-34:2)</text>
<text x="131.00" y="102.79" font-size="4.9" fill="#1e1e1e" textLength="50.50" lengthAdjust="spacingAndGlyphs">PE(P-36:2)/PE(O-36:3)</text>
<text x="131.00" y="109.79" font-size="4.9" fill="#1e1e1e" textLength="50.50" lengthAdjust="spacingAndGlyphs">PC(P-38:2)/PC(O-38:3)</text>
<text x="131.00" y="117.19" font-size="4.9" fill="#1e1e1e" textLength="50.50" lengthAdjust="spacingAndGlyphs">PE(P-40:6)/PE(O-40:7)</text>
<text x="211.50" y="122.09" font-size="4.9" fill="#1e1e1e" textLength="20.40" lengthAdjust="spacingAndGlyphs">TG(34:3)</text>
<text x="211.50" y="130.89" font-size="4.9" fill="#1e1e1e" textLength="53.70" lengthAdjust="spacingAndGlyphs">3-Indolepropionic acid</text>
<text x="211.50" y="139.59" font-size="4.9" fill="#1e1e1e" textLength="20.40" lengthAdjust="spacingAndGlyphs">TG(50:4)</text>
<text x="211.50" y="144.29" font-size="4.9" fill="#1e1e1e" textLength="20.40" lengthAdjust="spacingAndGlyphs">TG(52:6)</text>
<text x="211.50" y="150.19" font-size="4.9" fill="#1e1e1e" textLength="20.40" lengthAdjust="spacingAndGlyphs">TG(52:7)</text>
<text x="211.50" y="157.49" font-size="4.9" fill="#1e1e1e" textLength="46.00" lengthAdjust="spacingAndGlyphs">N-acetyltryptophan</text>
<text x="211.50" y="165.89" font-size="4.9" fill="#1e1e1e" textLength="35.40" lengthAdjust="spacingAndGlyphs">Proline-betaine</text>
<text x="211.50" y="171.89" font-size="4.9" fill="#1e1e1e" textLength="20.40" lengthAdjust="spacingAndGlyphs">TG(48:4)</text>
<text x="211.50" y="179.59" font-size="4.9" fill="#1e1e1e" textLength="20.40" lengthAdjust="spacingAndGlyphs">TG(50:3)</text>
<text x="211.50" y="183.99" font-size="4.9" fill="#1e1e1e" textLength="20.40" lengthAdjust="spacingAndGlyphs">PC(36:3)</text>
<rect x="48.5" y="12.5" width="228.00" height="233.00" fill="none" stroke="#7c7c7c" stroke-width="1"/>
<line x1="46.00" y1="234.70" x2="48.50" y2="234.70" stroke="#7c7c7c" stroke-width="0.9"/>
<text x="41.80" y="237.25" font-size="7.4" text-anchor="end" fill="#333">0</text>
<line x1="46.00" y1="191.70" x2="48.50" y2="191.70" stroke="#7c7c7c" stroke-width="0.9"/>
<text x="41.80" y="194.25" font-size="7.4" text-anchor="end" fill="#333">5</text>
<line x1="46.00" y1="148.70" x2="48.50" y2="148.70" stroke="#7c7c7c" stroke-width="0.9"/>
<text x="41.80" y="151.25" font-size="7.4" text-anchor="end" fill="#333">10</text>
<line x1="46.00" y1="105.70" x2="48.50" y2="105.70" stroke="#7c7c7c" stroke-width="0.9"/>
<text x="41.80" y="108.25" font-size="7.4" text-anchor="end" fill="#333">15</text>
<line x1="46.00" y1="62.70" x2="48.50" y2="62.70" stroke="#7c7c7c" stroke-width="0.9"/>
<text x="41.80" y="65.25" font-size="7.4" text-anchor="end" fill="#333">20</text>
<line x1="46.00" y1="19.70" x2="48.50" y2="19.70" stroke="#7c7c7c" stroke-width="0.9"/>
<text x="41.80" y="22.25" font-size="7.4" text-anchor="end" fill="#333">25</text>
<line x1="73.50" y1="245.50" x2="73.50" y2="248.00" stroke="#7c7c7c" stroke-width="0.9"/>
<text x="73.50" y="257.35" font-size="7.4" text-anchor="middle" fill="#333">−0.04</text>
<line x1="129.00" y1="245.50" x2="129.00" y2="248.00" stroke="#7c7c7c" stroke-width="0.9"/>
<text x="129.00" y="257.35" font-size="7.4" text-anchor="middle" fill="#333">−0.02</text>
<line x1="184.50" y1="245.50" x2="184.50" y2="248.00" stroke="#7c7c7c" stroke-width="0.9"/>
<text x="184.50" y="257.35" font-size="7.4" text-anchor="middle" fill="#333">0</text>
<line x1="240.00" y1="245.50" x2="240.00" y2="248.00" stroke="#7c7c7c" stroke-width="0.9"/>
<text x="240.00" y="257.35" font-size="7.4" text-anchor="middle" fill="#333">0.02</text>
<text x="0" y="0" font-size="8.8" fill="#222" text-anchor="middle" transform="translate(26.2 128.9) rotate(-90)">−log<tspan font-size="5.8" dy="2">10</tspan><tspan dy="-2">(</tspan><tspan font-style="italic">P</tspan> value)</text>
<text x="141.4" y="269.30" font-size="9" fill="#222">Adjusted <tspan font-style="italic">β</tspan></text>
<text x="283.90" y="118.16" font-size="9.2" textLength="46.80" lengthAdjust="spacingAndGlyphs">Metabolites</text>
<circle cx="287.60" cy="124.40" r="1.20" fill="#2b72b8"/>
<text x="293.70" y="127.05" font-size="7.7">Negative</text>
<circle cx="287.60" cy="132.30" r="1.20" fill="#d0d0d0"/>
<text x="293.70" y="134.95" font-size="7.7">Insignificance</text>
<circle cx="287.60" cy="140.10" r="1.20" fill="#e8141b"/>
<text x="293.70" y="142.75" font-size="7.7">Positive</text>
<text x="414.60" y="9.58" font-size="11" fill="#000" font-weight="bold">d</text>
<text x="462.40" y="45.10" font-size="9.0" textLength="215.20" lengthAdjust="spacingAndGlyphs">Triad method of total carbohydrate intake assessment</text>
<text x="554.8" y="59.92" font-size="8.5" fill="#222" textLength="30.2" lengthAdjust="spacingAndGlyphs">FFQ (<tspan font-style="italic">Q</tspan>)</text>
<polygon points="569.8,65.2 498.9,177.8 641.5,178.1" fill="none" stroke="#222" stroke-width="0.9" stroke-linejoin="miter"/>
<line x1="569.50" y1="65.20" x2="569.50" y2="123.90" stroke="#555" stroke-width="0.9"/>
<line x1="559.60" y1="140.90" x2="498.90" y2="177.80" stroke="#222" stroke-width="0.9"/>
<line x1="580.80" y1="140.90" x2="641.50" y2="178.10" stroke="#222" stroke-width="0.9"/>
<text x="551.00" y="136.56" font-size="8.6" textLength="43.00" lengthAdjust="spacingAndGlyphs">True intake</text>
<text x="550.20" y="109.09" font-size="8.4" fill="#222" textLength="38.50" lengthAdjust="spacingAndGlyphs"><tspan>r</tspan><tspan font-size="5.6" dy="1.6">QT</tspan><tspan dy="-1.6"> = 0.83</tspan></text>
<text x="490.30" y="121.09" font-size="8.4" fill="#222" textLength="40.20" lengthAdjust="spacingAndGlyphs"><tspan>r</tspan><tspan font-size="5.6" dy="1.6">QM</tspan><tspan dy="-1.6"> = 0.57</tspan></text>
<text x="609.80" y="121.09" font-size="8.4" fill="#222" textLength="38.00" lengthAdjust="spacingAndGlyphs"><tspan>r</tspan><tspan font-size="5.6" dy="1.6">QR</tspan><tspan dy="-1.6"> = 0.78</tspan></text>
<text x="528.70" y="167.49" font-size="8.4" fill="#222" textLength="39.10" lengthAdjust="spacingAndGlyphs"><tspan>r</tspan><tspan font-size="5.6" dy="1.6">MT</tspan><tspan dy="-1.6"> = 0.69</tspan></text>
<text x="573.30" y="167.49" font-size="8.4" fill="#222" textLength="38.00" lengthAdjust="spacingAndGlyphs"><tspan>r</tspan><tspan font-size="5.6" dy="1.6">RT</tspan><tspan dy="-1.6"> = 0.94</tspan></text>
<text x="549.90" y="188.89" font-size="8.4" fill="#222" textLength="40.20" lengthAdjust="spacingAndGlyphs"><tspan>r</tspan><tspan font-size="5.6" dy="1.6">RM</tspan><tspan dy="-1.6"> = 0.65</tspan></text>
<text x="437.5" y="184.86" font-size="8.6" fill="#222" textLength="58.6" lengthAdjust="spacingAndGlyphs">Met scores (<tspan font-style="italic">M</tspan>)</text>
<text x="644.8" y="184.86" font-size="8.6" fill="#222" textLength="35.4" lengthAdjust="spacingAndGlyphs">7DDR (<tspan font-style="italic">R</tspan>)</text>
<text x="415.30" y="288.48" font-size="11" fill="#000" font-weight="bold">e</text>
<line x1="445.40" y1="288.00" x2="445.40" y2="528.30" stroke="#8c8c8c" stroke-width="1.0"/>
<line x1="445.40" y1="528.30" x2="685.00" y2="528.30" stroke="#8c8c8c" stroke-width="1.0"/>
<line x1="442.80" y1="335.41" x2="445.40" y2="335.41" stroke="#8c8c8c" stroke-width="0.9"/>
<text x="438.60" y="337.75" font-size="6.8" text-anchor="end" fill="#333">4</text>
<line x1="442.80" y1="382.63" x2="445.40" y2="382.63" stroke="#8c8c8c" stroke-width="0.9"/>
<text x="438.60" y="384.97" font-size="6.8" text-anchor="end" fill="#333">2</text>
<line x1="442.80" y1="429.85" x2="445.40" y2="429.85" stroke="#8c8c8c" stroke-width="0.9"/>
<text x="438.60" y="432.19" font-size="6.8" text-anchor="end" fill="#333">0</text>
<line x1="442.80" y1="477.07" x2="445.40" y2="477.07" stroke="#8c8c8c" stroke-width="0.9"/>
<text x="438.60" y="479.41" font-size="6.8" text-anchor="end" fill="#333">−2</text>
<line x1="442.80" y1="524.29" x2="445.40" y2="524.29" stroke="#8c8c8c" stroke-width="0.9"/>
<text x="438.60" y="526.63" font-size="6.8" text-anchor="end" fill="#333">−4</text>
<text x="0" y="0" font-size="9.2" fill="#222" text-anchor="middle" textLength="77.7" lengthAdjust="spacingAndGlyphs" transform="translate(425.2 408.1) rotate(-90)">Metabolomic score</text>
<line x1="472.80" y1="387.20" x2="472.80" y2="418.80" stroke="#b8b8b8" stroke-width="1.0"/>
<line x1="472.80" y1="473.50" x2="472.80" y2="498.00" stroke="#b8b8b8" stroke-width="1.0"/>
<rect x="455.20" y="418.80" width="35.40" height="54.70" fill="#add8e6" stroke="#5f6b70" stroke-width="0.8"/>
<line x1="455.20" y1="444.70" x2="490.60" y2="444.70" stroke="#34474d" stroke-width="1.3"/>
<line x1="472.80" y1="528.30" x2="472.80" y2="530.90" stroke="#8c8c8c" stroke-width="0.9"/>
<text x="477.00" y="538.60" font-size="6.8" fill="#333" text-anchor="end" textLength="36" lengthAdjust="spacingAndGlyphs" transform="rotate(-45 477.00 538.60)">(4.36, 21.1]</text>
<line x1="518.90" y1="386.00" x2="518.90" y2="431.60" stroke="#b8b8b8" stroke-width="1.0"/>
<line x1="518.90" y1="462.30" x2="518.90" y2="500.90" stroke="#b8b8b8" stroke-width="1.0"/>
<rect x="501.60" y="431.60" width="35.10" height="30.70" fill="#add8e6" stroke="#5f6b70" stroke-width="0.8"/>
<line x1="501.60" y1="446.30" x2="536.70" y2="446.30" stroke="#34474d" stroke-width="1.3"/>
<line x1="518.90" y1="528.30" x2="518.90" y2="530.90" stroke="#8c8c8c" stroke-width="0.9"/>
<text x="523.10" y="538.60" font-size="6.8" fill="#333" text-anchor="end" textLength="36" lengthAdjust="spacingAndGlyphs" transform="rotate(-45 523.10 538.60)">(21.1, 37.8]</text>
<line x1="565.10" y1="376.90" x2="565.10" y2="419.20" stroke="#9a9a9a" stroke-width="1.0"/>
<line x1="565.10" y1="447.40" x2="565.10" y2="489.50" stroke="#9a9a9a" stroke-width="1.0"/>
<rect x="547.70" y="419.20" width="34.60" height="28.20" fill="#add8e6" stroke="#5f6b70" stroke-width="0.8"/>
<line x1="547.70" y1="433.40" x2="582.30" y2="433.40" stroke="#34474d" stroke-width="1.3"/>
<line x1="565.10" y1="528.30" x2="565.10" y2="530.90" stroke="#8c8c8c" stroke-width="0.9"/>
<text x="569.30" y="538.60" font-size="6.8" fill="#333" text-anchor="end" textLength="36" lengthAdjust="spacingAndGlyphs" transform="rotate(-45 569.30 538.60)">(37.8, 54.4]</text>
<line x1="611.10" y1="359.50" x2="611.10" y2="406.00" stroke="#8a8a8a" stroke-width="1.0"/>
<line x1="611.10" y1="436.40" x2="611.10" y2="482.30" stroke="#8a8a8a" stroke-width="1.0"/>
<rect x="594.20" y="406.00" width="34.30" height="30.40" fill="#add8e6" stroke="#5f6b70" stroke-width="0.8"/>
<line x1="594.20" y1="421.40" x2="628.50" y2="421.40" stroke="#34474d" stroke-width="1.3"/>
<line x1="611.10" y1="528.30" x2="611.10" y2="530.90" stroke="#8c8c8c" stroke-width="0.9"/>
<text x="615.30" y="538.60" font-size="6.8" fill="#333" text-anchor="end" textLength="36" lengthAdjust="spacingAndGlyphs" transform="rotate(-45 615.30 538.60)">(54.4, 71.1]</text>
<line x1="657.50" y1="333.30" x2="657.50" y2="378.30" stroke="#555555" stroke-width="1.0"/>
<line x1="657.50" y1="409.20" x2="657.50" y2="453.70" stroke="#555555" stroke-width="1.0"/>
<rect x="640.10" y="378.30" width="34.40" height="30.90" fill="#add8e6" stroke="#5f6b70" stroke-width="0.8"/>
<line x1="640.10" y1="390.80" x2="674.50" y2="390.80" stroke="#34474d" stroke-width="1.3"/>
<line x1="657.50" y1="528.30" x2="657.50" y2="530.90" stroke="#8c8c8c" stroke-width="0.9"/>
<text x="661.70" y="538.60" font-size="6.8" fill="#333" text-anchor="end" textLength="36" lengthAdjust="spacingAndGlyphs" transform="rotate(-45 661.70 538.60)">(71.1, 87.8]</text>
<circle cx="518.90" cy="381.70" r="1.10" fill="#000"/>
<circle cx="518.90" cy="385.00" r="1.10" fill="#000"/>
<circle cx="565.10" cy="342.70" r="1.10" fill="#000"/>
<circle cx="565.10" cy="348.70" r="1.10" fill="#000"/>
<circle cx="565.10" cy="355.00" r="1.10" fill="#000"/>
<circle cx="565.10" cy="357.40" r="1.10" fill="#000"/>
<circle cx="565.10" cy="360.50" r="1.10" fill="#000"/>
<circle cx="565.10" cy="361.95" r="1.10" fill="#000"/>
<circle cx="565.10" cy="363.40" r="1.10" fill="#000"/>
<circle cx="565.10" cy="364.85" r="1.10" fill="#000"/>
<circle cx="565.10" cy="366.30" r="1.10" fill="#000"/>
<circle cx="565.10" cy="367.75" r="1.10" fill="#000"/>
<circle cx="565.10" cy="369.20" r="1.10" fill="#000"/>
<circle cx="565.10" cy="370.65" r="1.10" fill="#000"/>
<circle cx="565.10" cy="372.10" r="1.10" fill="#000"/>
<circle cx="565.10" cy="373.55" r="1.10" fill="#000"/>
<circle cx="565.10" cy="375.00" r="1.10" fill="#000"/>
<circle cx="565.10" cy="376.45" r="1.10" fill="#000"/>
<circle cx="565.10" cy="490.50" r="1.10" fill="#000"/>
<circle cx="565.10" cy="491.90" r="1.10" fill="#000"/>
<circle cx="565.10" cy="493.30" r="1.10" fill="#000"/>
<circle cx="565.10" cy="494.70" r="1.10" fill="#000"/>
<circle cx="565.10" cy="496.10" r="1.10" fill="#000"/>
<circle cx="565.10" cy="497.50" r="1.10" fill="#000"/>
<circle cx="565.10" cy="498.90" r="1.10" fill="#000"/>
<circle cx="565.10" cy="500.30" r="1.10" fill="#000"/>
<circle cx="565.10" cy="501.70" r="1.10" fill="#000"/>
<circle cx="565.10" cy="503.10" r="1.10" fill="#000"/>
<circle cx="565.10" cy="508.30" r="1.10" fill="#000"/>
<circle cx="565.10" cy="511.60" r="1.10" fill="#000"/>
<circle cx="565.10" cy="517.70" r="1.10" fill="#000"/>
<circle cx="611.10" cy="304.90" r="1.10" fill="#000"/>
<circle cx="611.10" cy="318.00" r="1.10" fill="#000"/>
<circle cx="611.10" cy="324.70" r="1.10" fill="#000"/>
<circle cx="611.10" cy="327.40" r="1.10" fill="#000"/>
<circle cx="611.10" cy="330.90" r="1.10" fill="#000"/>
<circle cx="611.10" cy="333.50" r="1.10" fill="#000"/>
<circle cx="611.10" cy="336.00" r="1.10" fill="#000"/>
<circle cx="611.10" cy="338.00" r="1.10" fill="#000"/>
<circle cx="611.10" cy="341.10" r="1.10" fill="#000"/>
<circle cx="611.10" cy="343.80" r="1.10" fill="#000"/>
<circle cx="611.10" cy="347.20" r="1.10" fill="#000"/>
<circle cx="611.10" cy="348.60" r="1.10" fill="#000"/>
<circle cx="611.10" cy="350.00" r="1.10" fill="#000"/>
<circle cx="611.10" cy="351.40" r="1.10" fill="#000"/>
<circle cx="611.10" cy="352.80" r="1.10" fill="#000"/>
<circle cx="611.10" cy="354.20" r="1.10" fill="#000"/>
<circle cx="611.10" cy="355.60" r="1.10" fill="#000"/>
<circle cx="611.10" cy="357.00" r="1.10" fill="#000"/>
<circle cx="611.10" cy="358.40" r="1.10" fill="#000"/>
<circle cx="611.10" cy="484.40" r="1.10" fill="#000"/>
<circle cx="611.10" cy="485.90" r="1.10" fill="#000"/>
<circle cx="611.10" cy="490.50" r="1.10" fill="#000"/>
<circle cx="611.10" cy="491.90" r="1.10" fill="#000"/>
<circle cx="611.10" cy="500.70" r="1.10" fill="#000"/>
<circle cx="611.10" cy="509.90" r="1.10" fill="#000"/>
<circle cx="611.10" cy="512.40" r="1.10" fill="#000"/>
<text x="579.90" y="302.38" font-size="7.5" textLength="75.00" lengthAdjust="spacingAndGlyphs">Spearman rho = 0.297</text>
<circle cx="657.60" cy="299.20" r="1.00" fill="#111"/>
<text x="621.1" y="312.58" font-size="7.5" fill="#222" textLength="36" lengthAdjust="spacingAndGlyphs"><tspan font-style="italic">P</tspan> &lt; 0.0001</text>
<text x="491.10" y="579.63" font-size="9.1" textLength="148.40" lengthAdjust="spacingAndGlyphs">Quintiles of total carbohydrate intake</text>
<text x="0.00" y="558.68" font-size="11" fill="#000" font-weight="bold">c</text>
<rect x="272.80" y="563.47" width="17.12" height="5.79" fill="#7F7F7F"/>
<text x="184.80" y="568.39" font-size="5.9" text-anchor="end" fill="#333" textLength="63.64" lengthAdjust="spacingAndGlyphs">2-aminoheptanoic acid</text>
<rect x="214.93" y="569.90" width="57.87" height="5.79" fill="#7F7F7F"/>
<text x="184.80" y="574.82" font-size="5.9" text-anchor="end" fill="#333" textLength="23.41" lengthAdjust="spacingAndGlyphs">Piperine</text>
<rect x="250.54" y="576.33" width="22.26" height="5.79" fill="#7F7F7F"/>
<text x="184.80" y="581.26" font-size="5.9" text-anchor="end" fill="#333" textLength="60.85" lengthAdjust="spacingAndGlyphs">PC(P-34:4)/PC(O-34:5)</text>
<rect x="253.11" y="582.77" width="19.69" height="5.79" fill="#7F7F7F"/>
<text x="184.80" y="587.69" font-size="5.9" text-anchor="end" fill="#333" textLength="32.98" lengthAdjust="spacingAndGlyphs">Trigonelline</text>
<rect x="272.80" y="589.20" width="26.54" height="5.79" fill="#FF63B6"/>
<text x="184.80" y="594.12" font-size="5.9" text-anchor="end" fill="#333" textLength="22.94" lengthAdjust="spacingAndGlyphs">CE(22:5)</text>
<rect x="272.80" y="595.63" width="10.27" height="5.79" fill="#FF63B6"/>
<text x="184.80" y="600.56" font-size="5.9" text-anchor="end" fill="#333" textLength="22.94" lengthAdjust="spacingAndGlyphs">CE(22:4)</text>
<rect x="235.99" y="602.07" width="36.81" height="5.79" fill="#EF67EB"/>
<text x="184.80" y="606.99" font-size="5.9" text-anchor="end" fill="#333" textLength="39.18" lengthAdjust="spacingAndGlyphs">SM(d18:1/20:0)</text>
<rect x="272.80" y="608.50" width="44.51" height="5.79" fill="#EF67EB"/>
<text x="184.80" y="613.43" font-size="5.9" text-anchor="end" fill="#333" textLength="39.89" lengthAdjust="spacingAndGlyphs">Cer(d18:1/16:0)</text>
<rect x="272.80" y="614.93" width="0.68" height="5.79" fill="#B385FF"/>
<text x="184.80" y="619.86" font-size="5.9" text-anchor="end" fill="#333" textLength="31.56" lengthAdjust="spacingAndGlyphs">Quinic acid</text>
<rect x="258.25" y="621.37" width="14.55" height="5.79" fill="#00A6FF"/>
<text x="184.80" y="626.29" font-size="5.9" text-anchor="end" fill="#333" textLength="67.71" lengthAdjust="spacingAndGlyphs">Trimethylamine-N-oxide</text>
<rect x="272.80" y="627.80" width="74.47" height="5.79" fill="#00BADE"/>
<text x="184.80" y="632.73" font-size="5.9" text-anchor="end" fill="#333" textLength="61.87" lengthAdjust="spacingAndGlyphs">3-Indolepropionic acid</text>
<rect x="241.98" y="634.24" width="30.82" height="5.79" fill="#00C1A7"/>
<text x="184.80" y="639.16" font-size="5.9" text-anchor="end" fill="#333" textLength="130.79" lengthAdjust="spacingAndGlyphs">2-Hydroxybutyric acid or 3-Hydroxybutyric acid</text>
<rect x="260.30" y="640.67" width="12.50" height="5.79" fill="#00BD5C"/>
<text x="184.80" y="645.59" font-size="5.9" text-anchor="end" fill="#333" textLength="60.14" lengthAdjust="spacingAndGlyphs">PE(P-38:5)/PE(O-38:6)</text>
<rect x="259.70" y="647.10" width="13.10" height="5.79" fill="#00BD5C"/>
<text x="184.80" y="652.03" font-size="5.9" text-anchor="end" fill="#333" textLength="60.14" lengthAdjust="spacingAndGlyphs">PE(P-38:4)/PE(O-38:5)</text>
<rect x="262.53" y="653.54" width="10.27" height="5.79" fill="#00BD5C"/>
<text x="184.80" y="658.46" font-size="5.9" text-anchor="end" fill="#333" textLength="60.85" lengthAdjust="spacingAndGlyphs">PC(P-38:3)/PC(O-38:4)</text>
<rect x="191.48" y="659.97" width="81.32" height="5.79" fill="#00BD5C"/>
<text x="184.80" y="664.90" font-size="5.9" text-anchor="end" fill="#333" textLength="60.14" lengthAdjust="spacingAndGlyphs">PE(P-36:1)/PE(O-36:2)</text>
<rect x="238.56" y="666.40" width="34.24" height="5.79" fill="#00BD5C"/>
<text x="184.80" y="671.33" font-size="5.9" text-anchor="end" fill="#333" textLength="60.14" lengthAdjust="spacingAndGlyphs">PE(P-36:0)/PE(O-36:1)</text>
<rect x="272.80" y="672.84" width="27.39" height="5.79" fill="#00BD5C"/>
<text x="184.80" y="677.76" font-size="5.9" text-anchor="end" fill="#333" textLength="22.94" lengthAdjust="spacingAndGlyphs">PC(40:6)</text>
<rect x="272.80" y="679.27" width="85.60" height="5.79" fill="#00BD5C"/>
<text x="184.80" y="684.20" font-size="5.9" text-anchor="end" fill="#333" textLength="22.94" lengthAdjust="spacingAndGlyphs">PC(38:3)</text>
<rect x="272.80" y="685.71" width="46.22" height="5.79" fill="#64B200"/>
<text x="184.80" y="690.63" font-size="5.9" text-anchor="end" fill="#333" textLength="22.94" lengthAdjust="spacingAndGlyphs">TG(54:7)</text>
<rect x="272.80" y="692.14" width="1.03" height="5.79" fill="#64B200"/>
<text x="184.80" y="697.06" font-size="5.9" text-anchor="end" fill="#333" textLength="22.94" lengthAdjust="spacingAndGlyphs">TG(50:4)</text>
<rect x="231.71" y="698.57" width="41.09" height="5.79" fill="#64B200"/>
<text x="184.80" y="703.50" font-size="5.9" text-anchor="end" fill="#333" textLength="22.94" lengthAdjust="spacingAndGlyphs">TG(56:5)</text>
<rect x="272.80" y="705.01" width="5.99" height="5.79" fill="#64B200"/>
<text x="184.80" y="709.93" font-size="5.9" text-anchor="end" fill="#333" textLength="22.94" lengthAdjust="spacingAndGlyphs">TG(54:4)</text>
<rect x="253.11" y="711.44" width="19.69" height="5.79" fill="#64B200"/>
<text x="184.80" y="716.36" font-size="5.9" text-anchor="end" fill="#333" textLength="22.94" lengthAdjust="spacingAndGlyphs">TG(52:1)</text>
<rect x="230.86" y="717.87" width="41.94" height="5.79" fill="#AEA200"/>
<text x="184.80" y="722.80" font-size="5.9" text-anchor="end" fill="#333" textLength="142.82" lengthAdjust="spacingAndGlyphs">3-Carboxy-4-methyl-5-propyl-2-furanpropanoic acid</text>
<rect x="262.53" y="724.31" width="10.27" height="5.79" fill="#AEA200"/>
<text x="184.80" y="729.23" font-size="5.9" text-anchor="end" fill="#333" textLength="36.49" lengthAdjust="spacingAndGlyphs">C26 carnitine</text>
<rect x="265.10" y="730.74" width="7.70" height="5.79" fill="#AEA200"/>
<text x="184.80" y="735.67" font-size="5.9" text-anchor="end" fill="#333" textLength="62.56" lengthAdjust="spacingAndGlyphs">2-Hydroxyglutaric acid</text>
<rect x="260.82" y="737.17" width="11.98" height="5.79" fill="#AEA200"/>
<text x="184.80" y="742.10" font-size="5.9" text-anchor="end" fill="#333" textLength="33.49" lengthAdjust="spacingAndGlyphs">C5 carnitine</text>
<rect x="258.68" y="743.61" width="14.12" height="5.79" fill="#AEA200"/>
<text x="184.80" y="748.53" font-size="5.9" text-anchor="end" fill="#333" textLength="164.62" lengthAdjust="spacingAndGlyphs">2-Hydroxy-3-methylbutyric acid or 3-Hydroxyisovaleric acid</text>
<rect x="272.80" y="750.04" width="35.95" height="5.79" fill="#DB8E00"/>
<text x="184.80" y="754.97" font-size="5.9" text-anchor="end" fill="#333" textLength="42.91" lengthAdjust="spacingAndGlyphs">Proline-betaine</text>
<rect x="189.77" y="756.48" width="83.03" height="5.79" fill="#DB8E00"/>
<text x="184.80" y="761.40" font-size="5.9" text-anchor="end" fill="#333" textLength="55.47" lengthAdjust="spacingAndGlyphs">2-Aminobutyric acid</text>
<rect x="272.80" y="762.91" width="28.25" height="5.79" fill="#DB8E00"/>
<text x="184.80" y="767.83" font-size="5.9" text-anchor="end" fill="#333" textLength="19.86" lengthAdjust="spacingAndGlyphs">Proline</text>
<rect x="272.80" y="769.34" width="9.16" height="5.79" fill="#DB8E00"/>
<text x="184.80" y="774.27" font-size="5.9" text-anchor="end" fill="#333" textLength="44.67" lengthAdjust="spacingAndGlyphs">Dimethylglycine</text>
<rect x="212.88" y="775.78" width="59.92" height="5.79" fill="#DB8E00"/>
<text x="184.80" y="780.70" font-size="5.9" text-anchor="end" fill="#333" textLength="24.11" lengthAdjust="spacingAndGlyphs">Creatine</text>
<rect x="272.80" y="782.21" width="6.51" height="5.79" fill="#DB8E00"/>
<text x="184.80" y="787.14" font-size="5.9" text-anchor="end" fill="#333" textLength="21.64" lengthAdjust="spacingAndGlyphs">Betaine</text>
<rect x="272.80" y="788.64" width="2.14" height="5.79" fill="#F8766D"/>
<text x="184.80" y="793.57" font-size="5.9" text-anchor="end" fill="#333" textLength="36.88" lengthAdjust="spacingAndGlyphs">Hippuric acid</text>
<rect x="187.3" y="562.5" width="171.40" height="232.90" fill="none" stroke="#7c7c7c" stroke-width="1"/>
<text x="187.20" y="804.41" font-size="7.0" text-anchor="middle" fill="#333">−1.0</text>
<text x="230.00" y="804.41" font-size="7.0" text-anchor="middle" fill="#333">−0.5</text>
<text x="272.80" y="804.41" font-size="7.0" text-anchor="middle" fill="#333">0</text>
<text x="315.60" y="804.41" font-size="7.0" text-anchor="middle" fill="#333">0.5</text>
<text x="358.40" y="804.41" font-size="7.0" text-anchor="middle" fill="#333">1.0</text>
<text x="272.80" y="815.83" font-size="8.8" text-anchor="middle">Coefficient</text>
<text x="273.00" y="559.13" font-size="8.8" text-anchor="middle" textLength="75.00" lengthAdjust="spacingAndGlyphs">Total carbohydrate</text>
<text x="0" y="0" font-size="8.8" fill="#222" text-anchor="middle" textLength="67" lengthAdjust="spacingAndGlyphs" transform="translate(9.6 679.2) rotate(-90)">Metabolite name</text>
<text x="366.40" y="631.41" font-size="7.6">Class_metabolon</text>
<rect x="365.80" y="635.10" width="7.90" height="7.80" fill="#F8766D"/>
<text x="378.70" y="641.61" font-size="7.6">Benzene and substituted derivatives</text>
<rect x="365.80" y="644.23" width="7.90" height="7.80" fill="#DB8E00"/>
<text x="378.70" y="650.74" font-size="7.6">Carboxylic acids and derivatives</text>
<rect x="365.80" y="653.36" width="7.90" height="7.80" fill="#AEA200"/>
<text x="378.70" y="659.87" font-size="7.6">Fatty acyls</text>
<rect x="365.80" y="662.49" width="7.90" height="7.80" fill="#64B200"/>
<text x="378.70" y="669.00" font-size="7.6">Glycerolipids</text>
<rect x="365.80" y="671.62" width="7.90" height="7.80" fill="#00BD5C"/>
<text x="378.70" y="678.13" font-size="7.6">Glycerophospholipids</text>
<rect x="365.80" y="680.75" width="7.90" height="7.80" fill="#00C1A7"/>
<text x="378.70" y="687.26" font-size="7.6">Hydroxy acids and derivatives</text>
<rect x="365.80" y="689.88" width="7.90" height="7.80" fill="#00BADE"/>
<text x="378.70" y="696.39" font-size="7.6">Indoles and derivatives</text>
<rect x="365.80" y="699.01" width="7.90" height="7.80" fill="#00A6FF"/>
<text x="378.70" y="705.52" font-size="7.6">Organonitrogen compounds</text>
<rect x="365.80" y="708.14" width="7.90" height="7.80" fill="#B385FF"/>
<text x="378.70" y="714.65" font-size="7.6">Organooxygen compounds</text>
<rect x="365.80" y="717.27" width="7.90" height="7.80" fill="#EF67EB"/>
<text x="378.70" y="723.78" font-size="7.6">Sphingolipids</text>
<rect x="365.80" y="726.40" width="7.90" height="7.80" fill="#FF63B6"/>
<text x="378.70" y="732.91" font-size="7.6">Steroids and steroid derivatives</text>
<rect x="365.80" y="735.53" width="7.90" height="7.80" fill="#7F7F7F"/>
<text x="378.70" y="742.04" font-size="7.6">NA</text>
<text x="0.00" y="287.48" font-size="11" fill="#000" font-weight="bold">b</text>
<circle cx="140.8" cy="421.4" r="78" fill="none" stroke="#ececec" stroke-width="0.6"/>
<circle cx="140.8" cy="421.4" r="90.7" fill="none" stroke="#ececec" stroke-width="0.6"/>
<circle cx="140.8" cy="421.4" r="103.6" fill="none" stroke="#ececec" stroke-width="0.6"/>
<circle cx="140.8" cy="421.4" r="117" fill="none" stroke="#ececec" stroke-width="0.6"/>
<polygon points="140.97,356.90 145.13,357.05 144.86,361.04 140.96,360.90" fill="#FBBBB6" stroke="#fff" stroke-width="0.3"/>
<polygon points="145.47,357.07 149.61,357.50 149.06,361.47 145.18,361.06" fill="#FBBBB6" stroke="#fff" stroke-width="0.3"/>
<polygon points="149.94,357.55 154.05,358.27 151.58,370.02 148.24,369.43" fill="#FBBBB6" stroke="#fff" stroke-width="0.3"/>
<polygon points="155.03,358.49 159.07,359.54 156.80,367.21 153.27,366.29" fill="#FBBBB6" stroke="#fff" stroke-width="0.3"/>
<polygon points="159.07,359.54 163.02,360.85 165.09,355.22 160.76,353.79" fill="#FBBBB6" stroke="#fff" stroke-width="0.3"/>
<polygon points="163.65,361.08 167.50,362.68 169.98,357.22 165.78,355.47" fill="#FBBBB6" stroke="#fff" stroke-width="0.3"/>
<polygon points="176.07,367.40 179.48,369.79 175.28,375.39 172.24,373.26" fill="#ECC880" stroke="#fff" stroke-width="0.3"/>
<polygon points="186.45,375.83 189.29,378.87 186.29,381.51 183.62,378.66" fill="#D1D280" stroke="#fff" stroke-width="0.3"/>
<polygon points="189.07,378.62 191.73,381.82 188.57,384.28 186.08,381.27" fill="#D1D280" stroke="#fff" stroke-width="0.3"/>
<polygon points="192.14,382.36 194.55,385.75 191.64,387.69 189.36,384.48" fill="#D1D280" stroke="#fff" stroke-width="0.3"/>
<polygon points="195.23,386.79 197.35,390.38 194.28,392.06 192.28,388.67" fill="#D1D280" stroke="#fff" stroke-width="0.3"/>
<polygon points="197.62,390.87 199.47,394.60 196.29,396.06 194.53,392.53" fill="#D1D280" stroke="#fff" stroke-width="0.3"/>
<polygon points="199.70,395.11 201.27,398.97 197.99,400.19 196.50,396.54" fill="#D1D280" stroke="#fff" stroke-width="0.3"/>
<polygon points="201.58,399.82 202.85,403.78 205.73,402.96 204.41,398.81" fill="#D1D280" stroke="#fff" stroke-width="0.3"/>
<polygon points="202.88,403.89 203.88,407.93 210.72,406.47 209.62,401.99" fill="#D1D280" stroke="#fff" stroke-width="0.3"/>
<polygon points="203.97,408.38 204.68,412.48 208.64,411.93 207.89,407.57" fill="#D1D280" stroke="#fff" stroke-width="0.3"/>
<polygon points="204.74,412.93 205.15,417.07 197.17,417.61 196.81,413.98" fill="#D1D280" stroke="#fff" stroke-width="0.3"/>
<polygon points="205.18,417.41 205.30,421.57 202.30,421.56 202.18,417.59" fill="#D1D280" stroke="#fff" stroke-width="0.3"/>
<polygon points="205.30,421.91 205.13,426.07 202.14,425.85 202.30,421.88" fill="#D1D280" stroke="#fff" stroke-width="0.3"/>
<polygon points="203.86,434.98 202.85,439.02 199.00,437.92 199.94,434.13" fill="#9CDB80" stroke="#fff" stroke-width="0.3"/>
<polygon points="202.63,439.77 201.31,443.72 197.56,442.34 198.79,438.63" fill="#9CDB80" stroke="#fff" stroke-width="0.3"/>
<polygon points="201.16,444.15 199.56,447.99 195.92,446.34 197.41,442.74" fill="#9CDB80" stroke="#fff" stroke-width="0.3"/>
<polygon points="199.28,448.61 197.40,452.33 192.14,449.45 193.84,446.08" fill="#9CDB80" stroke="#fff" stroke-width="0.3"/>
<polygon points="192.21,460.35 189.59,463.59 187.32,461.63 189.82,458.54" fill="#80DFBE" stroke="#fff" stroke-width="0.3"/>
<polygon points="182.65,470.48 179.39,473.08 182.98,477.89 186.54,475.05" fill="#80DFE1" stroke="#fff" stroke-width="0.3"/>
<polygon points="170.93,478.43 167.19,480.25 168.42,482.99 172.33,481.08" fill="#80D8FB" stroke="#fff" stroke-width="0.3"/>
<polygon points="167.29,480.21 163.44,481.80 164.85,485.54 168.93,483.86" fill="#80D8FB" stroke="#fff" stroke-width="0.3"/>
<polygon points="163.23,481.87 159.28,483.20 160.71,487.99 164.97,486.56" fill="#80D8FB" stroke="#fff" stroke-width="0.3"/>
<polygon points="158.96,483.29 154.93,484.33 156.24,490.19 160.65,489.05" fill="#80D8FB" stroke="#fff" stroke-width="0.3"/>
<polygon points="154.38,484.46 150.28,485.20 151.16,491.13 155.64,490.32" fill="#80D8FB" stroke="#fff" stroke-width="0.3"/>
<polygon points="149.72,485.28 145.58,485.72 145.88,489.71 150.27,489.24" fill="#80D8FB" stroke="#fff" stroke-width="0.3"/>
<polygon points="144.79,485.78 140.63,485.90 140.62,489.40 145.01,489.27" fill="#80D8FB" stroke="#fff" stroke-width="0.3"/>
<polygon points="140.41,485.90 136.24,485.74 136.00,489.23 140.38,489.40" fill="#80D8FB" stroke="#fff" stroke-width="0.3"/>
<polygon points="135.68,485.70 131.54,485.23 131.11,488.20 135.45,488.69" fill="#80D8FB" stroke="#fff" stroke-width="0.3"/>
<polygon points="130.77,485.11 126.67,484.33 125.58,489.21 129.99,490.05" fill="#80D8FB" stroke="#fff" stroke-width="0.3"/>
<polygon points="126.35,484.26 122.32,483.20 121.75,485.11 125.90,486.21" fill="#80D8FB" stroke="#fff" stroke-width="0.3"/>
<polygon points="114.82,480.44 111.07,478.64 112.45,475.98 116.03,477.69" fill="#CAC8FF" stroke="#fff" stroke-width="0.3"/>
<polygon points="102.66,473.42 99.38,470.85 98.10,472.38 101.48,475.03" fill="#F3B5F9" stroke="#fff" stroke-width="0.3"/>
<polygon points="98.87,470.41 95.79,467.60 93.70,469.75 96.92,472.69" fill="#F3B5F9" stroke="#fff" stroke-width="0.3"/>
<polygon points="95.55,467.37 92.68,464.35 95.66,461.69 98.36,464.51" fill="#F3B5F9" stroke="#fff" stroke-width="0.3"/>
<polygon points="92.38,464.01 89.73,460.80 97.65,454.69 99.89,457.41" fill="#F3B5F9" stroke="#fff" stroke-width="0.3"/>
<polygon points="89.05,459.90 86.68,456.48 94.23,451.59 96.27,454.53" fill="#F3B5F9" stroke="#fff" stroke-width="0.3"/>
<polygon points="86.19,455.72 84.09,452.13 97.28,444.98 98.89,447.74" fill="#F3B5F9" stroke="#fff" stroke-width="0.3"/>
<polygon points="83.77,451.53 81.95,447.79 78.30,449.43 80.23,453.40" fill="#F3B5F9" stroke="#fff" stroke-width="0.3"/>
<polygon points="81.85,447.58 80.29,443.72 77.47,444.76 79.11,448.80" fill="#F3B5F9" stroke="#fff" stroke-width="0.3"/>
<polygon points="80.36,443.94 79.04,439.99 83.35,438.69 84.58,442.36" fill="#F3B5F9" stroke="#fff" stroke-width="0.3"/>
<polygon points="78.94,439.67 77.89,435.63 85.01,434.02 85.94,437.60" fill="#F3B5F9" stroke="#fff" stroke-width="0.3"/>
<polygon points="77.72,434.87 76.98,430.77 83.51,429.81 84.18,433.49" fill="#F3B5F9" stroke="#fff" stroke-width="0.3"/>
<polygon points="76.92,430.32 76.48,426.18 86.45,425.44 86.82,428.94" fill="#F3B5F9" stroke="#fff" stroke-width="0.3"/>
<polygon points="76.46,425.96 76.30,421.79 83.70,421.75 83.84,425.43" fill="#F3B5F9" stroke="#fff" stroke-width="0.3"/>
<polygon points="76.30,421.23 76.45,417.07 84.73,417.63 84.60,421.25" fill="#F3B5F9" stroke="#fff" stroke-width="0.3"/>
<polygon points="76.48,416.62 76.92,412.48 81.87,413.17 81.46,416.99" fill="#F3B5F9" stroke="#fff" stroke-width="0.3"/>
<polygon points="76.98,412.03 77.72,407.93 84.96,409.48 84.31,413.11" fill="#F3B5F9" stroke="#fff" stroke-width="0.3"/>
<polygon points="77.87,407.27 78.91,403.24 92.15,407.13 91.33,410.30" fill="#F3B5F9" stroke="#fff" stroke-width="0.3"/>
<polygon points="79.07,402.70 80.40,398.76 90.70,402.62 89.60,405.89" fill="#F3B5F9" stroke="#fff" stroke-width="0.3"/>
<polygon points="80.56,398.34 82.18,394.50 90.08,398.13 88.69,401.45" fill="#F3B5F9" stroke="#fff" stroke-width="0.3"/>
<polygon points="82.37,394.09 84.25,390.38 91.00,394.08 89.34,397.35" fill="#F3B5F9" stroke="#fff" stroke-width="0.3"/>
<polygon points="84.41,390.08 86.55,386.51 91.60,389.75 89.66,392.99" fill="#F3B5F9" stroke="#fff" stroke-width="0.3"/>
<polygon points="86.80,386.13 89.19,382.72 96.07,387.88 94.00,390.83" fill="#F3B5F9" stroke="#fff" stroke-width="0.3"/>
<polygon points="89.53,382.27 92.16,379.04 96.38,382.72 93.98,385.67" fill="#F3B5F9" stroke="#fff" stroke-width="0.3"/>
<polygon points="92.46,378.70 95.31,375.67 97.07,377.44 94.33,380.36" fill="#F3B5F9" stroke="#fff" stroke-width="0.3"/>
<polygon points="101.40,370.33 104.78,367.90 112.60,379.51 109.95,381.42" fill="#FFB1DE" stroke="#fff" stroke-width="0.3"/>
<polygon points="105.53,367.40 109.09,365.23 114.99,375.68 112.09,377.44" fill="#FFB1DE" stroke="#fff" stroke-width="0.3"/>
<polygon points="109.48,365.01 113.18,363.11 116.61,370.34 113.37,372.01" fill="#FFB1DE" stroke="#fff" stroke-width="0.3"/>
<polygon points="113.90,362.78 117.74,361.16 116.84,358.83 112.86,360.51" fill="#FFB1DE" stroke="#fff" stroke-width="0.3"/>
<polygon points="118.16,361.00 122.10,359.67 121.09,356.32 116.93,357.73" fill="#FFB1DE" stroke="#fff" stroke-width="0.3"/>
<polygon points="122.32,359.60 126.35,358.54 125.34,354.15 121.03,355.29" fill="#FFB1DE" stroke="#fff" stroke-width="0.3"/>
<polygon points="126.57,358.49 130.65,357.70 130.34,355.73 126.12,356.54" fill="#FFB1DE" stroke="#fff" stroke-width="0.3"/>
<circle cx="140.8" cy="421.4" r="64.5" fill="none" stroke="#666" stroke-width="0.6"/>
<text x="143.52" y="345.53" font-size="6.05" textLength="45.43" lengthAdjust="spacingAndGlyphs" transform="rotate(-88.00 143.52 343.45)">1-Methylhistidine</text>
<text x="148.92" y="346.21" font-size="6.05" textLength="21.79" lengthAdjust="spacingAndGlyphs" transform="rotate(-84.00 148.92 344.13)">creatine</text>
<text x="152.87" y="355.04" font-size="6.05" textLength="53.25" lengthAdjust="spacingAndGlyphs" transform="rotate(-80.00 152.87 352.96)">2-Aminobutyric acid</text>
<text x="159.50" y="351.68" font-size="6.05" textLength="48.50" lengthAdjust="spacingAndGlyphs" transform="rotate(-75.40 159.50 349.60)">2-aminooctanoate</text>
<text x="168.02" y="341.17" font-size="6.05" textLength="40.52" lengthAdjust="spacingAndGlyphs" transform="rotate(-71.70 168.02 339.08)">proline-betaine</text>
<text x="173.96" y="343.81" font-size="6.05" textLength="51.40" lengthAdjust="spacingAndGlyphs" transform="rotate(-67.40 173.96 341.73)">N-acetyltryptophan</text>
<text x="182.44" y="364.01" font-size="6.05" textLength="58.35" lengthAdjust="spacingAndGlyphs" transform="rotate(-55.00 182.44 361.93)">2-Hydroxybutyric acid</text>
<text x="196.73" y="371.14" font-size="6.05" textLength="32.15" lengthAdjust="spacingAndGlyphs" transform="rotate(-43.10 196.73 369.06)">C2 carnitine</text>
<text x="201.27" y="373.27" font-size="6.05" textLength="93.91" lengthAdjust="spacingAndGlyphs" transform="rotate(-37.40 201.27 371.19)">2-Hydroxy-3-methyl-pentanoic acid</text>
<text x="204.22" y="378.41" font-size="6.05" textLength="83.35" lengthAdjust="spacingAndGlyphs" transform="rotate(-35.20 204.22 376.33)">2-Hydroxy-3-methylbutyric acid</text>
<text x="208.20" y="383.62" font-size="6.05" textLength="32.15" lengthAdjust="spacingAndGlyphs" transform="rotate(-30.60 208.20 381.54)">C8 carnitine</text>
<text x="210.76" y="388.76" font-size="6.05" textLength="35.03" lengthAdjust="spacingAndGlyphs" transform="rotate(-26.40 210.76 386.67)">C26 carnitine</text>
<text x="212.46" y="394.24" font-size="6.05" textLength="35.03" lengthAdjust="spacingAndGlyphs" transform="rotate(-22.20 212.46 392.16)">C20 carnitine</text>
<text x="220.16" y="398.16" font-size="6.05" textLength="22.70" lengthAdjust="spacingAndGlyphs" transform="rotate(-17.70 220.16 396.07)">DG(34:2)</text>
<text x="225.83" y="402.44" font-size="6.05" textLength="22.70" lengthAdjust="spacingAndGlyphs" transform="rotate(-13.90 225.83 400.36)">DG(34:3)</text>
<text x="224.26" y="409.06" font-size="6.05" textLength="22.70" lengthAdjust="spacingAndGlyphs" transform="rotate(-9.80 224.26 406.98)">DG(36:4)</text>
<text x="211.95" y="416.38" font-size="6.05" textLength="43.38" lengthAdjust="spacingAndGlyphs" transform="rotate(-5.70 211.95 414.30)">C4-OH carnitine</text>
<text x="217.77" y="421.20" font-size="6.05" textLength="32.15" lengthAdjust="spacingAndGlyphs" transform="rotate(-1.70 217.77 419.12)">C7 carnitine</text>
<text x="218.94" y="426.62" font-size="6.05" textLength="32.15" lengthAdjust="spacingAndGlyphs" transform="rotate(2.30 218.94 424.54)">C9 carnitine</text>
<text x="215.71" y="442.16" font-size="6.05" textLength="37.62" lengthAdjust="spacingAndGlyphs" transform="rotate(14.00 215.71 440.08)">SM(d18:1/16:0)</text>
<text x="213.96" y="447.82" font-size="6.05" textLength="38.30" lengthAdjust="spacingAndGlyphs" transform="rotate(18.40 213.96 445.74)">Cer(d18:1/24:0)</text>
<text x="212.22" y="453.06" font-size="6.05" textLength="37.62" lengthAdjust="spacingAndGlyphs" transform="rotate(22.50 212.22 450.98)">SM(d18:1/18:0)</text>
<text x="208.19" y="457.52" font-size="6.05" textLength="37.62" lengthAdjust="spacingAndGlyphs" transform="rotate(26.80 208.19 455.44)">SM(d18:1/20:0)</text>
<text x="201.18" y="472.38" font-size="6.05" textLength="44.60" lengthAdjust="spacingAndGlyphs" transform="rotate(39.00 201.18 470.30)">Methylguanidine</text>
<text x="195.20" y="491.63" font-size="6.05" textLength="59.39" lengthAdjust="spacingAndGlyphs" transform="rotate(51.40 195.20 489.55)">3-Indolepropionic acid</text>
<text x="177.58" y="498.89" font-size="6.05" textLength="22.02" lengthAdjust="spacingAndGlyphs" transform="rotate(64.00 177.58 496.81)">TG(52:5)</text>
<text x="172.96" y="501.51" font-size="6.05" textLength="22.02" lengthAdjust="spacingAndGlyphs" transform="rotate(67.60 172.96 499.43)">TG(48:3)</text>
<text x="167.52" y="503.33" font-size="6.05" textLength="22.02" lengthAdjust="spacingAndGlyphs" transform="rotate(71.50 167.52 501.25)">TG(50:3)</text>
<text x="162.06" y="505.68" font-size="6.05" textLength="22.02" lengthAdjust="spacingAndGlyphs" transform="rotate(75.50 162.06 503.60)">TG(50:4)</text>
<text x="155.98" y="507.01" font-size="6.05" textLength="22.02" lengthAdjust="spacingAndGlyphs" transform="rotate(79.70 155.98 504.93)">TG(52:6)</text>
<text x="149.73" y="507.01" font-size="6.05" textLength="22.02" lengthAdjust="spacingAndGlyphs" transform="rotate(83.90 149.73 504.92)">TG(54:7)</text>
<text x="143.33" y="508.74" font-size="6.05" textLength="22.70" lengthAdjust="spacingAndGlyphs" transform="rotate(88.30 143.33 506.66)">DG(32:1)</text>
<text x="137.53" y="508.72" font-size="6.05" text-anchor="end" textLength="22.02" lengthAdjust="spacingAndGlyphs" transform="rotate(-87.80 137.53 506.64)">TG(50:6)</text>
<text x="131.50" y="506.36" font-size="6.05" text-anchor="end" textLength="22.02" lengthAdjust="spacingAndGlyphs" transform="rotate(-83.60 131.50 504.28)">TG(54:6)</text>
<text x="125.23" y="505.11" font-size="6.05" text-anchor="end" textLength="22.02" lengthAdjust="spacingAndGlyphs" transform="rotate(-79.20 125.23 503.03)">TG(52:7)</text>
<text x="119.60" y="503.73" font-size="6.05" text-anchor="end" textLength="22.02" lengthAdjust="spacingAndGlyphs" transform="rotate(-75.20 119.60 501.65)">TG(49:3)</text>
<text x="107.62" y="492.74" font-size="6.05" text-anchor="end" textLength="22.02" lengthAdjust="spacingAndGlyphs" transform="rotate(-64.40 107.62 490.66)">CE(20:4)</text>
<text x="88.66" y="489.98" font-size="6.05" text-anchor="end" textLength="22.02" lengthAdjust="spacingAndGlyphs" transform="rotate(-51.90 88.66 487.90)">PC(38:3)</text>
<text x="83.96" y="485.73" font-size="6.05" text-anchor="end" textLength="22.02" lengthAdjust="spacingAndGlyphs" transform="rotate(-47.60 83.96 483.65)">PC(40:6)</text>
<text x="85.84" y="475.82" font-size="6.05" text-anchor="end" textLength="21.69" lengthAdjust="spacingAndGlyphs" transform="rotate(-43.60 85.84 473.74)">PE(38:2)</text>
<text x="86.79" y="468.01" font-size="6.05" text-anchor="end" textLength="57.74" lengthAdjust="spacingAndGlyphs" transform="rotate(-39.50 86.79 465.93)">PE(P-34:1)/PE(O-34:2)</text>
<text x="80.61" y="465.31" font-size="6.05" text-anchor="end" textLength="57.74" lengthAdjust="spacingAndGlyphs" transform="rotate(-34.80 80.61 463.23)">PE(P-36:0)/PE(O-36:1)</text>
<text x="84.16" y="456.58" font-size="6.05" text-anchor="end" textLength="57.74" lengthAdjust="spacingAndGlyphs" transform="rotate(-30.30 84.16 454.50)">PE(P-36:1)/PE(O-36:2)</text>
<text x="65.03" y="460.44" font-size="6.05" text-anchor="end" textLength="25.43" lengthAdjust="spacingAndGlyphs" transform="rotate(-26.00 65.03 458.35)">LPC(20:3)</text>
<text x="63.43" y="454.90" font-size="6.05" text-anchor="end" textLength="28.11" lengthAdjust="spacingAndGlyphs" transform="rotate(-22.10 63.43 452.81)">C22:5 LPC</text>
<text x="67.73" y="448.07" font-size="6.05" text-anchor="end" textLength="58.41" lengthAdjust="spacingAndGlyphs" transform="rotate(-18.60 67.73 445.99)">PC(P-34:2)/PC(O-34:3)</text>
<text x="59.90" y="444.43" font-size="5.7" text-anchor="end" textLength="58.41" lengthAdjust="spacingAndGlyphs" transform="rotate(-14.60 59.90 442.47)">PC(P-36:4)/PC(O-36:5)</text>
<text x="67.87" y="436.60" font-size="6.05" text-anchor="end" textLength="58.41" lengthAdjust="spacingAndGlyphs" transform="rotate(-10.20 67.87 434.52)">PC(P-36:1)/PC(O-36:2)</text>
<text x="70.90" y="430.95" font-size="6.05" text-anchor="end" textLength="58.41" lengthAdjust="spacingAndGlyphs" transform="rotate(-6.10 70.90 428.87)">PC(P-38:3)/PC(O-38:4)</text>
<text x="67.85" y="426.28" font-size="6.05" text-anchor="end" textLength="58.41" lengthAdjust="spacingAndGlyphs" transform="rotate(-2.20 67.85 424.20)">PC(P-36:3)/PC(O-36:4)</text>
<text x="67.94" y="420.94" font-size="6.05" text-anchor="end" textLength="61.13" lengthAdjust="spacingAndGlyphs" transform="rotate(2.00 67.94 418.86)">C38:6 PC plasmalogen</text>
<text x="65.43" y="415.43" font-size="6.05" text-anchor="end" textLength="57.74" lengthAdjust="spacingAndGlyphs" transform="rotate(6.10 65.43 413.35)">PE(P-34:2)/PE(O-34:3)</text>
<text x="67.97" y="410.38" font-size="6.05" text-anchor="end" textLength="57.74" lengthAdjust="spacingAndGlyphs" transform="rotate(10.20 67.97 408.30)">PE(P-38:2)/PE(O-38:3)</text>
<text x="76.13" y="406.76" font-size="6.05" text-anchor="end" textLength="57.74" lengthAdjust="spacingAndGlyphs" transform="rotate(14.50 76.13 404.67)">PE(P-38:4)/PE(O-38:5)</text>
<text x="74.87" y="401.17" font-size="6.05" text-anchor="end" textLength="57.74" lengthAdjust="spacingAndGlyphs" transform="rotate(18.70 74.87 399.09)">PE(P-38:5)/PE(O-38:6)</text>
<text x="74.24" y="395.50" font-size="6.05" text-anchor="end" textLength="57.74" lengthAdjust="spacingAndGlyphs" transform="rotate(22.80 74.24 393.42)">PE(P-40:6)/PE(O-40:7)</text>
<text x="74.90" y="390.05" font-size="6.05" text-anchor="end" textLength="57.74" lengthAdjust="spacingAndGlyphs" transform="rotate(26.90 74.90 387.97)">PE(P-36:4)/PE(O-36:5)</text>
<text x="77.47" y="385.58" font-size="6.05" text-anchor="end" textLength="57.74" lengthAdjust="spacingAndGlyphs" transform="rotate(30.90 77.47 383.50)">PE(P-38:6)/PE(O-38:7)</text>
<text x="81.33" y="381.84" font-size="6.05" text-anchor="end" textLength="57.74" lengthAdjust="spacingAndGlyphs" transform="rotate(35.00 81.33 379.76)">PE(P-36:2)/PE(O-36:3)</text>
<text x="83.45" y="376.71" font-size="6.05" text-anchor="end" textLength="57.74" lengthAdjust="spacingAndGlyphs" transform="rotate(39.20 83.45 374.63)">PE(P-36:3)/PE(O-36:4)</text>
<text x="83.60" y="369.58" font-size="6.05" text-anchor="end" textLength="21.69" lengthAdjust="spacingAndGlyphs" transform="rotate(43.30 83.60 367.49)">PS(38:6)</text>
<text x="100.03" y="366.95" font-size="6.05" text-anchor="end" textLength="58.41" lengthAdjust="spacingAndGlyphs" transform="rotate(54.20 100.03 364.87)">PC(P-34:4)/PC(O-34:5)</text>
<text x="103.50" y="362.13" font-size="6.05" text-anchor="end" textLength="58.41" lengthAdjust="spacingAndGlyphs" transform="rotate(58.70 103.50 360.05)">PC(P-38:2)/PC(O-38:3)</text>
<text x="106.47" y="356.69" font-size="6.05" text-anchor="end" textLength="22.47" lengthAdjust="spacingAndGlyphs" transform="rotate(62.80 106.47 354.60)">Piperine</text>
<text x="107.28" y="343.74" font-size="6.05" text-anchor="end" textLength="22.02" lengthAdjust="spacingAndGlyphs" transform="rotate(67.20 107.28 341.66)">TG(46:3)</text>
<text x="113.42" y="342.59" font-size="6.05" text-anchor="end" textLength="22.02" lengthAdjust="spacingAndGlyphs" transform="rotate(71.30 113.42 340.51)">TG(48:5)</text>
<text x="118.88" y="340.53" font-size="6.05" text-anchor="end" textLength="22.02" lengthAdjust="spacingAndGlyphs" transform="rotate(75.20 118.88 338.45)">TG(48:4)</text>
<text x="125.86" y="345.91" font-size="6.05" text-anchor="end" textLength="37.62" lengthAdjust="spacingAndGlyphs" transform="rotate(79.10 125.86 343.83)">SM(d18:1/16:1)</text>
<text x="68.00" y="442.40" font-size="5.8" text-anchor="middle" transform="rotate(-15.00 68.00 440.40)">8</text>
<text x="147.60" y="371.33" font-size="6.2" text-anchor="middle" fill="#444">A</text>
<text x="167.50" y="378.33" font-size="6.2" text-anchor="middle" fill="#444">B</text>
<text x="188.50" y="401.73" font-size="6.2" text-anchor="middle" fill="#444">C</text>
<text x="191.50" y="438.33" font-size="6.2" text-anchor="middle" fill="#444">D</text>
<text x="183.30" y="453.83" font-size="6.2" text-anchor="middle" fill="#444">E</text>
<text x="176.30" y="462.43" font-size="6.2" text-anchor="middle" fill="#444">F</text>
<text x="149.90" y="475.73" font-size="6.2" text-anchor="middle" fill="#444">G</text>
<text x="120.30" y="472.23" font-size="6.2" text-anchor="middle" fill="#444">H</text>
<text x="88.00" y="430.93" font-size="6.2" text-anchor="middle" fill="#444">I</text>
<text x="117.20" y="376.73" font-size="6.2" text-anchor="middle" fill="#444">J</text>
<text x="134.00" y="306.87" font-size="6.6" text-anchor="middle" fill="#333">80</text>
<text x="134.00" y="319.57" font-size="6.6" text-anchor="middle" fill="#333">60</text>
<text x="134.00" y="332.77" font-size="6.6" text-anchor="middle" fill="#333">40</text>
<text x="134.00" y="344.97" font-size="6.6" text-anchor="middle" fill="#333">20</text>
<text x="265.10" y="378.18" font-size="7.8">Group</text>
<rect x="265.80" y="381.80" width="7.20" height="7.20" fill="#FBBBB6"/>
<text x="277.80" y="388.07" font-size="7.75">A: carboxylic acids and derivatives</text>
<rect x="265.80" y="390.45" width="7.20" height="7.20" fill="#ECC880"/>
<text x="277.80" y="396.72" font-size="7.75">B: hydroxy acids and derivatives</text>
<rect x="265.80" y="399.10" width="7.20" height="7.20" fill="#D1D280"/>
<text x="277.80" y="405.37" font-size="7.75">C: fatty acyls</text>
<rect x="265.80" y="407.75" width="7.20" height="7.20" fill="#9CDB80"/>
<text x="277.80" y="414.02" font-size="7.75">D: sphingolipids</text>
<rect x="265.80" y="416.40" width="7.20" height="7.20" fill="#80DFBE"/>
<text x="277.80" y="422.67" font-size="7.75">E: organonitrogen compounds</text>
<rect x="265.80" y="425.05" width="7.20" height="7.20" fill="#80DFE1"/>
<text x="277.80" y="431.32" font-size="7.75">F: indoles and derivatives</text>
<rect x="265.80" y="433.70" width="7.20" height="7.20" fill="#80D8FB"/>
<text x="277.80" y="439.97" font-size="7.75">G: glycerolipids</text>
<rect x="265.80" y="442.35" width="7.20" height="7.20" fill="#CAC8FF"/>
<text x="277.80" y="448.62" font-size="7.75">H: steroids and steroid derivatives</text>
<rect x="265.80" y="451.00" width="7.20" height="7.20" fill="#F3B5F9"/>
<text x="277.80" y="457.27" font-size="7.75">I: glycerophospholipids</text>
<rect x="265.80" y="459.65" width="7.20" height="7.20" fill="#FFB1DE"/>
<text x="277.80" y="465.92" font-size="7.75">J: NA</text>
</svg></body></html>
